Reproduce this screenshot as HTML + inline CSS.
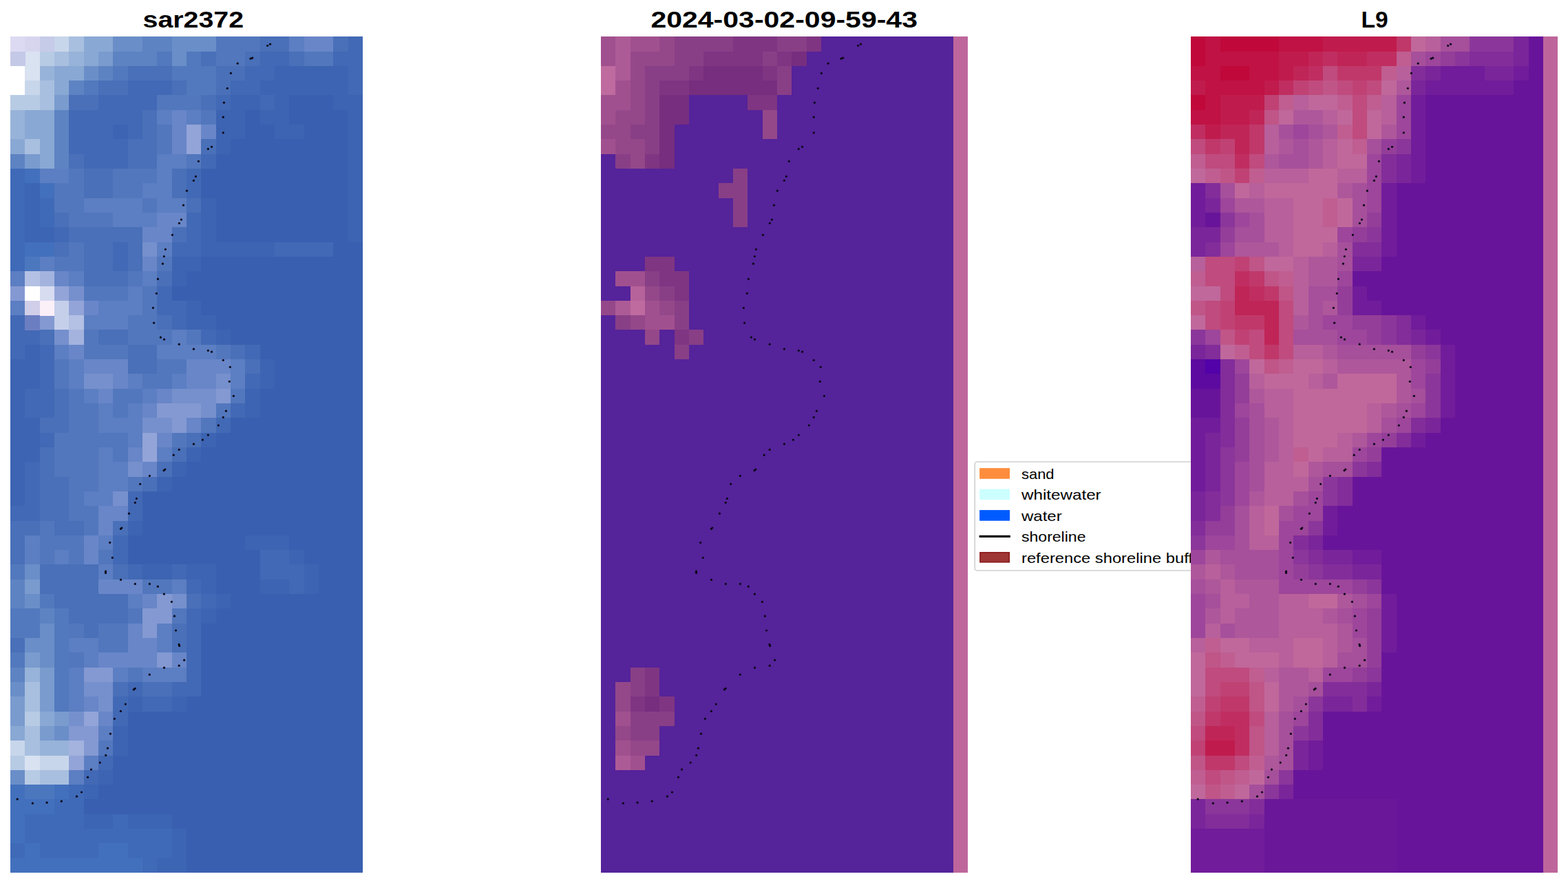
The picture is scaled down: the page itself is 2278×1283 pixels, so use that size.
<!DOCTYPE html>
<html><head><meta charset="utf-8"><title>figure</title>
<style>html,body{margin:0;padding:0;background:#fff;font-family:"Liberation Sans",sans-serif;}
#wrap{position:relative;width:2278px;height:1283px;overflow:hidden;}
svg{display:block}</style></head><body><div id="wrap">
<svg width="2278" height="1283" viewBox="0 0 2278 1283" shape-rendering="crispEdges">
<rect width="2278" height="1283" fill="#fff"/>
<rect x="15" y="53.2" width="512" height="1214.8" fill="#3a60b0"/>
<rect x="15.00" y="53.20" width="43.07" height="21.71" fill="#d9e2f1"/>
<rect x="57.67" y="53.20" width="43.07" height="21.71" fill="#c8d6eb"/>
<rect x="100.33" y="53.20" width="21.73" height="21.71" fill="#a8bfdf"/>
<rect x="121.67" y="53.20" width="43.07" height="21.71" fill="#89a8d4"/>
<rect x="164.33" y="53.20" width="43.07" height="21.71" fill="#6a8ec8"/>
<rect x="207.00" y="53.20" width="43.07" height="21.71" fill="#5d83c2"/>
<rect x="249.67" y="53.20" width="64.40" height="21.71" fill="#6a8ec8"/>
<rect x="313.67" y="53.20" width="64.40" height="21.71" fill="#5277bd"/>
<rect x="377.67" y="53.20" width="43.07" height="21.71" fill="#4970b8"/>
<rect x="420.33" y="53.20" width="21.73" height="21.71" fill="#5c7ec2"/>
<rect x="441.67" y="53.20" width="43.07" height="21.71" fill="#6886c8"/>
<rect x="484.33" y="53.20" width="21.73" height="21.71" fill="#4970b8"/>
<rect x="505.67" y="53.20" width="21.33" height="21.71" fill="#4269b5"/>
<rect x="15.00" y="74.51" width="21.73" height="21.71" fill="#c8d6eb"/>
<rect x="36.33" y="74.51" width="21.73" height="21.71" fill="#d9e2f1"/>
<rect x="57.67" y="74.51" width="21.73" height="21.71" fill="#b8cbe5"/>
<rect x="79.00" y="74.51" width="21.73" height="21.71" fill="#a8bfdf"/>
<rect x="100.33" y="74.51" width="21.73" height="21.71" fill="#98b3d9"/>
<rect x="121.67" y="74.51" width="21.73" height="21.71" fill="#89a8d4"/>
<rect x="143.00" y="74.51" width="21.73" height="21.71" fill="#799bce"/>
<rect x="164.33" y="74.51" width="64.40" height="21.71" fill="#5d83c2"/>
<rect x="228.33" y="74.51" width="21.73" height="21.71" fill="#5279bd"/>
<rect x="249.67" y="74.51" width="21.73" height="21.71" fill="#6a8ec8"/>
<rect x="271.00" y="74.51" width="21.73" height="21.71" fill="#5279bd"/>
<rect x="292.33" y="74.51" width="21.73" height="21.71" fill="#4970b8"/>
<rect x="313.67" y="74.51" width="43.07" height="21.71" fill="#5277bd"/>
<rect x="356.33" y="74.51" width="21.73" height="21.71" fill="#4970b8"/>
<rect x="377.67" y="74.51" width="43.07" height="21.71" fill="#4269b5"/>
<rect x="420.33" y="74.51" width="21.73" height="21.71" fill="#4970b8"/>
<rect x="441.67" y="74.51" width="43.07" height="21.71" fill="#5277bd"/>
<rect x="484.33" y="74.51" width="42.67" height="21.71" fill="#4269b5"/>
<rect x="15.00" y="95.82" width="21.73" height="21.71" fill="#ffffff"/>
<rect x="36.33" y="95.82" width="21.73" height="21.71" fill="#d9e2f1"/>
<rect x="57.67" y="95.82" width="21.73" height="21.71" fill="#98b3d9"/>
<rect x="79.00" y="95.82" width="43.07" height="21.71" fill="#89a8d4"/>
<rect x="121.67" y="95.82" width="21.73" height="21.71" fill="#6a8ec8"/>
<rect x="143.00" y="95.82" width="21.73" height="21.71" fill="#5d83c2"/>
<rect x="164.33" y="95.82" width="21.73" height="21.71" fill="#5279bd"/>
<rect x="185.67" y="95.82" width="64.40" height="21.71" fill="#4970b8"/>
<rect x="249.67" y="95.82" width="64.40" height="21.71" fill="#5279bd"/>
<rect x="313.67" y="95.82" width="43.07" height="21.71" fill="#4970b8"/>
<rect x="356.33" y="95.82" width="43.07" height="21.71" fill="#4269b5"/>
<rect x="399.00" y="95.82" width="107.07" height="21.71" fill="#3d64b2"/>
<rect x="505.67" y="95.82" width="21.33" height="21.71" fill="#4269b5"/>
<rect x="15.00" y="117.14" width="21.73" height="21.71" fill="#ffffff"/>
<rect x="36.33" y="117.14" width="21.73" height="21.71" fill="#c8d6eb"/>
<rect x="57.67" y="117.14" width="21.73" height="21.71" fill="#a8bfdf"/>
<rect x="79.00" y="117.14" width="21.73" height="21.71" fill="#89a8d4"/>
<rect x="100.33" y="117.14" width="21.73" height="21.71" fill="#5d83c2"/>
<rect x="121.67" y="117.14" width="21.73" height="21.71" fill="#5279bd"/>
<rect x="143.00" y="117.14" width="43.07" height="21.71" fill="#4970b8"/>
<rect x="185.67" y="117.14" width="64.40" height="21.71" fill="#4269b5"/>
<rect x="249.67" y="117.14" width="21.73" height="21.71" fill="#4970b8"/>
<rect x="271.00" y="117.14" width="43.07" height="21.71" fill="#5279bd"/>
<rect x="313.67" y="117.14" width="21.73" height="21.71" fill="#4970b8"/>
<rect x="335.00" y="117.14" width="43.07" height="21.71" fill="#4269b5"/>
<rect x="377.67" y="117.14" width="128.40" height="21.71" fill="#3d64b2"/>
<rect x="505.67" y="117.14" width="21.33" height="21.71" fill="#4269b5"/>
<rect x="15.00" y="138.45" width="43.07" height="21.71" fill="#b8cbe5"/>
<rect x="57.67" y="138.45" width="21.73" height="21.71" fill="#a8bfdf"/>
<rect x="79.00" y="138.45" width="21.73" height="21.71" fill="#799bce"/>
<rect x="100.33" y="138.45" width="43.07" height="21.71" fill="#4970b8"/>
<rect x="143.00" y="138.45" width="85.73" height="21.71" fill="#4269b5"/>
<rect x="228.33" y="138.45" width="64.40" height="21.71" fill="#5277bd"/>
<rect x="292.33" y="138.45" width="21.73" height="21.71" fill="#4970b8"/>
<rect x="313.67" y="138.45" width="21.73" height="21.71" fill="#4269b5"/>
<rect x="335.00" y="138.45" width="43.07" height="21.71" fill="#3d64b2"/>
<rect x="377.67" y="138.45" width="21.73" height="21.71" fill="#4269b5"/>
<rect x="399.00" y="138.45" width="21.73" height="21.71" fill="#3d64b2"/>
<rect x="420.33" y="138.45" width="64.40" height="21.71" fill="#395fb0"/>
<rect x="484.33" y="138.45" width="42.67" height="21.71" fill="#3d64b2"/>
<rect x="15.00" y="159.76" width="21.73" height="21.71" fill="#98b3d9"/>
<rect x="36.33" y="159.76" width="43.07" height="21.71" fill="#89a8d4"/>
<rect x="79.00" y="159.76" width="21.73" height="21.71" fill="#5d83c2"/>
<rect x="100.33" y="159.76" width="107.07" height="21.71" fill="#4269b5"/>
<rect x="207.00" y="159.76" width="21.73" height="21.71" fill="#4970b8"/>
<rect x="228.33" y="159.76" width="21.73" height="21.71" fill="#5c7ec2"/>
<rect x="249.67" y="159.76" width="21.73" height="21.71" fill="#6886c8"/>
<rect x="271.00" y="159.76" width="21.73" height="21.71" fill="#5c7ec2"/>
<rect x="292.33" y="159.76" width="21.73" height="21.71" fill="#5277bd"/>
<rect x="313.67" y="159.76" width="43.07" height="21.71" fill="#3d64b2"/>
<rect x="356.33" y="159.76" width="21.73" height="21.71" fill="#395fb0"/>
<rect x="377.67" y="159.76" width="43.07" height="21.71" fill="#3d64b2"/>
<rect x="420.33" y="159.76" width="85.73" height="21.71" fill="#395fb0"/>
<rect x="505.67" y="159.76" width="21.33" height="21.71" fill="#3d64b2"/>
<rect x="15.00" y="181.07" width="21.73" height="21.71" fill="#98b3d9"/>
<rect x="36.33" y="181.07" width="43.07" height="21.71" fill="#89a8d4"/>
<rect x="79.00" y="181.07" width="21.73" height="21.71" fill="#5d83c2"/>
<rect x="100.33" y="181.07" width="64.40" height="21.71" fill="#4269b5"/>
<rect x="164.33" y="181.07" width="21.73" height="21.71" fill="#3d64b2"/>
<rect x="185.67" y="181.07" width="21.73" height="21.71" fill="#4269b5"/>
<rect x="207.00" y="181.07" width="21.73" height="21.71" fill="#4970b8"/>
<rect x="228.33" y="181.07" width="21.73" height="21.71" fill="#5277bd"/>
<rect x="249.67" y="181.07" width="21.73" height="21.71" fill="#6886c8"/>
<rect x="271.00" y="181.07" width="21.73" height="21.71" fill="#93a4d8"/>
<rect x="292.33" y="181.07" width="21.73" height="21.71" fill="#6886c8"/>
<rect x="313.67" y="181.07" width="43.07" height="21.71" fill="#3d64b2"/>
<rect x="356.33" y="181.07" width="43.07" height="21.71" fill="#395fb0"/>
<rect x="399.00" y="181.07" width="43.07" height="21.71" fill="#3d64b2"/>
<rect x="441.67" y="181.07" width="64.40" height="21.71" fill="#395fb0"/>
<rect x="505.67" y="181.07" width="21.33" height="21.71" fill="#3d64b2"/>
<rect x="15.00" y="202.39" width="21.73" height="21.71" fill="#89a8d4"/>
<rect x="36.33" y="202.39" width="21.73" height="21.71" fill="#a8bfdf"/>
<rect x="57.67" y="202.39" width="21.73" height="21.71" fill="#89a8d4"/>
<rect x="79.00" y="202.39" width="21.73" height="21.71" fill="#5d83c2"/>
<rect x="100.33" y="202.39" width="85.73" height="21.71" fill="#4269b5"/>
<rect x="185.67" y="202.39" width="43.07" height="21.71" fill="#4970b8"/>
<rect x="228.33" y="202.39" width="21.73" height="21.71" fill="#5277bd"/>
<rect x="249.67" y="202.39" width="21.73" height="21.71" fill="#6886c8"/>
<rect x="271.00" y="202.39" width="21.73" height="21.71" fill="#93a4d8"/>
<rect x="292.33" y="202.39" width="21.73" height="21.71" fill="#4970b8"/>
<rect x="313.67" y="202.39" width="21.73" height="21.71" fill="#3d64b2"/>
<rect x="335.00" y="202.39" width="171.07" height="21.71" fill="#395fb0"/>
<rect x="505.67" y="202.39" width="21.33" height="21.71" fill="#3d64b2"/>
<rect x="15.00" y="223.70" width="21.73" height="21.71" fill="#5d83c2"/>
<rect x="36.33" y="223.70" width="21.73" height="21.71" fill="#799bce"/>
<rect x="57.67" y="223.70" width="21.73" height="21.71" fill="#89a8d4"/>
<rect x="79.00" y="223.70" width="21.73" height="21.71" fill="#5d83c2"/>
<rect x="100.33" y="223.70" width="21.73" height="21.71" fill="#4970b8"/>
<rect x="121.67" y="223.70" width="64.40" height="21.71" fill="#4269b5"/>
<rect x="185.67" y="223.70" width="43.07" height="21.71" fill="#4970b8"/>
<rect x="228.33" y="223.70" width="43.07" height="21.71" fill="#5c7ec2"/>
<rect x="271.00" y="223.70" width="21.73" height="21.71" fill="#5277bd"/>
<rect x="292.33" y="223.70" width="21.73" height="21.71" fill="#4269b5"/>
<rect x="313.67" y="223.70" width="192.40" height="21.71" fill="#395fb0"/>
<rect x="505.67" y="223.70" width="21.33" height="21.71" fill="#3d64b2"/>
<rect x="15.00" y="245.01" width="21.73" height="21.71" fill="#3f6ab8"/>
<rect x="36.33" y="245.01" width="21.73" height="21.71" fill="#4370bc"/>
<rect x="57.67" y="245.01" width="43.07" height="21.71" fill="#5c7ec2"/>
<rect x="100.33" y="245.01" width="21.73" height="21.71" fill="#5277bd"/>
<rect x="121.67" y="245.01" width="43.07" height="21.71" fill="#4970b8"/>
<rect x="164.33" y="245.01" width="64.40" height="21.71" fill="#5277bd"/>
<rect x="228.33" y="245.01" width="21.73" height="21.71" fill="#5c7ec2"/>
<rect x="249.67" y="245.01" width="21.73" height="21.71" fill="#4970b8"/>
<rect x="271.00" y="245.01" width="21.73" height="21.71" fill="#4269b5"/>
<rect x="292.33" y="245.01" width="213.73" height="21.71" fill="#395fb0"/>
<rect x="505.67" y="245.01" width="21.33" height="21.71" fill="#3d64b2"/>
<rect x="15.00" y="266.32" width="21.73" height="21.71" fill="#3f6ab8"/>
<rect x="36.33" y="266.32" width="21.73" height="21.71" fill="#3c65b4"/>
<rect x="57.67" y="266.32" width="21.73" height="21.71" fill="#4370bc"/>
<rect x="79.00" y="266.32" width="43.07" height="21.71" fill="#5277bd"/>
<rect x="121.67" y="266.32" width="43.07" height="21.71" fill="#4970b8"/>
<rect x="164.33" y="266.32" width="43.07" height="21.71" fill="#5277bd"/>
<rect x="207.00" y="266.32" width="43.07" height="21.71" fill="#5c7ec2"/>
<rect x="249.67" y="266.32" width="21.73" height="21.71" fill="#4970b8"/>
<rect x="271.00" y="266.32" width="21.73" height="21.71" fill="#4269b5"/>
<rect x="292.33" y="266.32" width="213.73" height="21.71" fill="#395fb0"/>
<rect x="505.67" y="266.32" width="21.33" height="21.71" fill="#3d64b2"/>
<rect x="15.00" y="287.64" width="21.73" height="21.71" fill="#3f6ab8"/>
<rect x="36.33" y="287.64" width="21.73" height="21.71" fill="#3c65b4"/>
<rect x="57.67" y="287.64" width="21.73" height="21.71" fill="#3f6ab8"/>
<rect x="79.00" y="287.64" width="43.07" height="21.71" fill="#5277bd"/>
<rect x="121.67" y="287.64" width="85.73" height="21.71" fill="#5c7ec2"/>
<rect x="207.00" y="287.64" width="21.73" height="21.71" fill="#5277bd"/>
<rect x="228.33" y="287.64" width="43.07" height="21.71" fill="#5c7ec2"/>
<rect x="271.00" y="287.64" width="21.73" height="21.71" fill="#4970b8"/>
<rect x="292.33" y="287.64" width="21.73" height="21.71" fill="#3d64b2"/>
<rect x="313.67" y="287.64" width="192.40" height="21.71" fill="#395fb0"/>
<rect x="505.67" y="287.64" width="21.33" height="21.71" fill="#3d64b2"/>
<rect x="15.00" y="308.95" width="21.73" height="21.71" fill="#3f6ab8"/>
<rect x="36.33" y="308.95" width="21.73" height="21.71" fill="#3c65b4"/>
<rect x="57.67" y="308.95" width="21.73" height="21.71" fill="#3f6ab8"/>
<rect x="79.00" y="308.95" width="21.73" height="21.71" fill="#4970b8"/>
<rect x="100.33" y="308.95" width="64.40" height="21.71" fill="#5277bd"/>
<rect x="164.33" y="308.95" width="64.40" height="21.71" fill="#5c7ec2"/>
<rect x="228.33" y="308.95" width="43.07" height="21.71" fill="#6886c8"/>
<rect x="271.00" y="308.95" width="21.73" height="21.71" fill="#4269b5"/>
<rect x="292.33" y="308.95" width="21.73" height="21.71" fill="#3d64b2"/>
<rect x="313.67" y="308.95" width="192.40" height="21.71" fill="#395fb0"/>
<rect x="505.67" y="308.95" width="21.33" height="21.71" fill="#3d64b2"/>
<rect x="15.00" y="330.26" width="21.73" height="21.71" fill="#3f6ab8"/>
<rect x="36.33" y="330.26" width="43.07" height="21.71" fill="#3c65b4"/>
<rect x="79.00" y="330.26" width="21.73" height="21.71" fill="#4269b5"/>
<rect x="100.33" y="330.26" width="107.07" height="21.71" fill="#4970b8"/>
<rect x="207.00" y="330.26" width="43.07" height="21.71" fill="#6886c8"/>
<rect x="249.67" y="330.26" width="21.73" height="21.71" fill="#4970b8"/>
<rect x="271.00" y="330.26" width="21.73" height="21.71" fill="#4269b5"/>
<rect x="292.33" y="330.26" width="21.73" height="21.71" fill="#3d64b2"/>
<rect x="313.67" y="330.26" width="192.40" height="21.71" fill="#395fb0"/>
<rect x="505.67" y="330.26" width="21.33" height="21.71" fill="#3d64b2"/>
<rect x="15.00" y="351.57" width="21.73" height="21.71" fill="#3f6ab8"/>
<rect x="36.33" y="351.57" width="43.07" height="21.71" fill="#4370bc"/>
<rect x="79.00" y="351.57" width="21.73" height="21.71" fill="#4970b8"/>
<rect x="100.33" y="351.57" width="21.73" height="21.71" fill="#5277bd"/>
<rect x="121.67" y="351.57" width="43.07" height="21.71" fill="#4970b8"/>
<rect x="164.33" y="351.57" width="21.73" height="21.71" fill="#4269b5"/>
<rect x="185.67" y="351.57" width="21.73" height="21.71" fill="#4970b8"/>
<rect x="207.00" y="351.57" width="21.73" height="21.71" fill="#7690cd"/>
<rect x="228.33" y="351.57" width="21.73" height="21.71" fill="#5c7ec2"/>
<rect x="249.67" y="351.57" width="43.07" height="21.71" fill="#4269b5"/>
<rect x="292.33" y="351.57" width="107.07" height="21.71" fill="#3d64b2"/>
<rect x="399.00" y="351.57" width="85.73" height="21.71" fill="#4269b5"/>
<rect x="484.33" y="351.57" width="42.67" height="21.71" fill="#395fb0"/>
<rect x="15.00" y="372.88" width="21.73" height="21.71" fill="#3f6ab8"/>
<rect x="36.33" y="372.88" width="21.73" height="21.71" fill="#4b77bf"/>
<rect x="57.67" y="372.88" width="21.73" height="21.71" fill="#5c7ec2"/>
<rect x="79.00" y="372.88" width="43.07" height="21.71" fill="#5277bd"/>
<rect x="121.67" y="372.88" width="43.07" height="21.71" fill="#4970b8"/>
<rect x="164.33" y="372.88" width="21.73" height="21.71" fill="#4269b5"/>
<rect x="185.67" y="372.88" width="21.73" height="21.71" fill="#4970b8"/>
<rect x="207.00" y="372.88" width="21.73" height="21.71" fill="#6886c8"/>
<rect x="228.33" y="372.88" width="21.73" height="21.71" fill="#5277bd"/>
<rect x="249.67" y="372.88" width="43.07" height="21.71" fill="#3d64b2"/>
<rect x="292.33" y="372.88" width="234.67" height="21.71" fill="#395fb0"/>
<rect x="15.00" y="394.20" width="21.73" height="21.71" fill="#5c7ec2"/>
<rect x="36.33" y="394.20" width="21.73" height="21.71" fill="#b4c1e4"/>
<rect x="57.67" y="394.20" width="21.73" height="21.71" fill="#a3b3de"/>
<rect x="79.00" y="394.20" width="21.73" height="21.71" fill="#6886c8"/>
<rect x="100.33" y="394.20" width="21.73" height="21.71" fill="#5c7ec2"/>
<rect x="121.67" y="394.20" width="64.40" height="21.71" fill="#4970b8"/>
<rect x="185.67" y="394.20" width="21.73" height="21.71" fill="#5277bd"/>
<rect x="207.00" y="394.20" width="21.73" height="21.71" fill="#5c7ec2"/>
<rect x="228.33" y="394.20" width="21.73" height="21.71" fill="#4970b8"/>
<rect x="249.67" y="394.20" width="21.73" height="21.71" fill="#3d64b2"/>
<rect x="271.00" y="394.20" width="256.00" height="21.71" fill="#395fb0"/>
<rect x="15.00" y="415.51" width="21.73" height="21.71" fill="#8499d2"/>
<rect x="36.33" y="415.51" width="21.73" height="21.71" fill="#ffffff"/>
<rect x="57.67" y="415.51" width="21.73" height="21.71" fill="#d7dcf1"/>
<rect x="79.00" y="415.51" width="21.73" height="21.71" fill="#93a4d8"/>
<rect x="100.33" y="415.51" width="21.73" height="21.71" fill="#7690cd"/>
<rect x="121.67" y="415.51" width="64.40" height="21.71" fill="#5277bd"/>
<rect x="185.67" y="415.51" width="21.73" height="21.71" fill="#5c7ec2"/>
<rect x="207.00" y="415.51" width="21.73" height="21.71" fill="#5277bd"/>
<rect x="228.33" y="415.51" width="21.73" height="21.71" fill="#4269b5"/>
<rect x="249.67" y="415.51" width="277.33" height="21.71" fill="#395fb0"/>
<rect x="15.00" y="436.82" width="21.73" height="21.71" fill="#5c7ec2"/>
<rect x="36.33" y="436.82" width="21.73" height="21.71" fill="#c5cfea"/>
<rect x="57.67" y="436.82" width="21.73" height="21.71" fill="#ebedf8"/>
<rect x="79.00" y="436.82" width="21.73" height="21.71" fill="#c5cfea"/>
<rect x="100.33" y="436.82" width="21.73" height="21.71" fill="#93a4d8"/>
<rect x="121.67" y="436.82" width="21.73" height="21.71" fill="#6886c8"/>
<rect x="143.00" y="436.82" width="64.40" height="21.71" fill="#5c7ec2"/>
<rect x="207.00" y="436.82" width="21.73" height="21.71" fill="#5277bd"/>
<rect x="228.33" y="436.82" width="43.07" height="21.71" fill="#4269b5"/>
<rect x="271.00" y="436.82" width="21.73" height="21.71" fill="#3d64b2"/>
<rect x="292.33" y="436.82" width="234.67" height="21.71" fill="#395fb0"/>
<rect x="15.00" y="458.13" width="21.73" height="21.71" fill="#4269b5"/>
<rect x="36.33" y="458.13" width="21.73" height="21.71" fill="#5c7ec2"/>
<rect x="57.67" y="458.13" width="21.73" height="21.71" fill="#8499d2"/>
<rect x="79.00" y="458.13" width="21.73" height="21.71" fill="#c5cfea"/>
<rect x="100.33" y="458.13" width="21.73" height="21.71" fill="#b4c1e4"/>
<rect x="121.67" y="458.13" width="64.40" height="21.71" fill="#5c7ec2"/>
<rect x="185.67" y="458.13" width="43.07" height="21.71" fill="#5277bd"/>
<rect x="228.33" y="458.13" width="21.73" height="21.71" fill="#4970b8"/>
<rect x="249.67" y="458.13" width="21.73" height="21.71" fill="#4269b5"/>
<rect x="271.00" y="458.13" width="43.07" height="21.71" fill="#3d64b2"/>
<rect x="313.67" y="458.13" width="213.33" height="21.71" fill="#395fb0"/>
<rect x="15.00" y="479.45" width="43.07" height="21.71" fill="#4269b5"/>
<rect x="57.67" y="479.45" width="21.73" height="21.71" fill="#4970b8"/>
<rect x="79.00" y="479.45" width="21.73" height="21.71" fill="#7690cd"/>
<rect x="100.33" y="479.45" width="21.73" height="21.71" fill="#a3b3de"/>
<rect x="121.67" y="479.45" width="21.73" height="21.71" fill="#5277bd"/>
<rect x="143.00" y="479.45" width="43.07" height="21.71" fill="#4970b8"/>
<rect x="185.67" y="479.45" width="64.40" height="21.71" fill="#5277bd"/>
<rect x="249.67" y="479.45" width="21.73" height="21.71" fill="#5c7ec2"/>
<rect x="271.00" y="479.45" width="21.73" height="21.71" fill="#5277bd"/>
<rect x="292.33" y="479.45" width="21.73" height="21.71" fill="#4269b5"/>
<rect x="313.67" y="479.45" width="21.73" height="21.71" fill="#3d64b2"/>
<rect x="335.00" y="479.45" width="192.00" height="21.71" fill="#395fb0"/>
<rect x="15.00" y="500.76" width="21.73" height="21.71" fill="#4269b5"/>
<rect x="36.33" y="500.76" width="21.73" height="21.71" fill="#3d64b2"/>
<rect x="57.67" y="500.76" width="21.73" height="21.71" fill="#4269b5"/>
<rect x="79.00" y="500.76" width="21.73" height="21.71" fill="#5c7ec2"/>
<rect x="100.33" y="500.76" width="21.73" height="21.71" fill="#6886c8"/>
<rect x="121.67" y="500.76" width="64.40" height="21.71" fill="#5277bd"/>
<rect x="185.67" y="500.76" width="43.07" height="21.71" fill="#4970b8"/>
<rect x="228.33" y="500.76" width="85.73" height="21.71" fill="#5c7ec2"/>
<rect x="313.67" y="500.76" width="21.73" height="21.71" fill="#5277bd"/>
<rect x="335.00" y="500.76" width="21.73" height="21.71" fill="#4970b8"/>
<rect x="356.33" y="500.76" width="21.73" height="21.71" fill="#4269b5"/>
<rect x="377.67" y="500.76" width="149.33" height="21.71" fill="#395fb0"/>
<rect x="15.00" y="522.07" width="43.07" height="21.71" fill="#3d64b2"/>
<rect x="57.67" y="522.07" width="21.73" height="21.71" fill="#4269b5"/>
<rect x="79.00" y="522.07" width="21.73" height="21.71" fill="#5277bd"/>
<rect x="100.33" y="522.07" width="21.73" height="21.71" fill="#5c7ec2"/>
<rect x="121.67" y="522.07" width="64.40" height="21.71" fill="#6886c8"/>
<rect x="185.67" y="522.07" width="43.07" height="21.71" fill="#4970b8"/>
<rect x="228.33" y="522.07" width="43.07" height="21.71" fill="#5277bd"/>
<rect x="271.00" y="522.07" width="64.40" height="21.71" fill="#6886c8"/>
<rect x="335.00" y="522.07" width="21.73" height="21.71" fill="#5c7ec2"/>
<rect x="356.33" y="522.07" width="21.73" height="21.71" fill="#4970b8"/>
<rect x="377.67" y="522.07" width="21.73" height="21.71" fill="#3d64b2"/>
<rect x="399.00" y="522.07" width="128.00" height="21.71" fill="#395fb0"/>
<rect x="15.00" y="543.38" width="43.07" height="21.71" fill="#3d64b2"/>
<rect x="57.67" y="543.38" width="21.73" height="21.71" fill="#4269b5"/>
<rect x="79.00" y="543.38" width="21.73" height="21.71" fill="#5277bd"/>
<rect x="100.33" y="543.38" width="21.73" height="21.71" fill="#5c7ec2"/>
<rect x="121.67" y="543.38" width="43.07" height="21.71" fill="#7690cd"/>
<rect x="164.33" y="543.38" width="21.73" height="21.71" fill="#6886c8"/>
<rect x="185.67" y="543.38" width="21.73" height="21.71" fill="#5c7ec2"/>
<rect x="207.00" y="543.38" width="43.07" height="21.71" fill="#5277bd"/>
<rect x="249.67" y="543.38" width="21.73" height="21.71" fill="#5c7ec2"/>
<rect x="271.00" y="543.38" width="43.07" height="21.71" fill="#6886c8"/>
<rect x="313.67" y="543.38" width="21.73" height="21.71" fill="#7690cd"/>
<rect x="335.00" y="543.38" width="21.73" height="21.71" fill="#5c7ec2"/>
<rect x="356.33" y="543.38" width="21.73" height="21.71" fill="#4269b5"/>
<rect x="377.67" y="543.38" width="21.73" height="21.71" fill="#3d64b2"/>
<rect x="399.00" y="543.38" width="128.00" height="21.71" fill="#395fb0"/>
<rect x="15.00" y="564.69" width="21.73" height="21.71" fill="#3d64b2"/>
<rect x="36.33" y="564.69" width="43.07" height="21.71" fill="#4269b5"/>
<rect x="79.00" y="564.69" width="21.73" height="21.71" fill="#4970b8"/>
<rect x="100.33" y="564.69" width="21.73" height="21.71" fill="#5277bd"/>
<rect x="121.67" y="564.69" width="21.73" height="21.71" fill="#5c7ec2"/>
<rect x="143.00" y="564.69" width="21.73" height="21.71" fill="#6886c8"/>
<rect x="164.33" y="564.69" width="43.07" height="21.71" fill="#5277bd"/>
<rect x="207.00" y="564.69" width="21.73" height="21.71" fill="#5c7ec2"/>
<rect x="228.33" y="564.69" width="21.73" height="21.71" fill="#6886c8"/>
<rect x="249.67" y="564.69" width="64.40" height="21.71" fill="#7690cd"/>
<rect x="313.67" y="564.69" width="21.73" height="21.71" fill="#8499d2"/>
<rect x="335.00" y="564.69" width="21.73" height="21.71" fill="#5277bd"/>
<rect x="356.33" y="564.69" width="21.73" height="21.71" fill="#3d64b2"/>
<rect x="377.67" y="564.69" width="149.33" height="21.71" fill="#395fb0"/>
<rect x="15.00" y="586.01" width="21.73" height="21.71" fill="#3d64b2"/>
<rect x="36.33" y="586.01" width="43.07" height="21.71" fill="#4269b5"/>
<rect x="79.00" y="586.01" width="21.73" height="21.71" fill="#4970b8"/>
<rect x="100.33" y="586.01" width="43.07" height="21.71" fill="#5277bd"/>
<rect x="143.00" y="586.01" width="21.73" height="21.71" fill="#5c7ec2"/>
<rect x="164.33" y="586.01" width="21.73" height="21.71" fill="#5277bd"/>
<rect x="185.67" y="586.01" width="21.73" height="21.71" fill="#5c7ec2"/>
<rect x="207.00" y="586.01" width="21.73" height="21.71" fill="#6886c8"/>
<rect x="228.33" y="586.01" width="64.40" height="21.71" fill="#8499d2"/>
<rect x="292.33" y="586.01" width="21.73" height="21.71" fill="#7690cd"/>
<rect x="313.67" y="586.01" width="21.73" height="21.71" fill="#5277bd"/>
<rect x="335.00" y="586.01" width="21.73" height="21.71" fill="#4269b5"/>
<rect x="356.33" y="586.01" width="21.73" height="21.71" fill="#3d64b2"/>
<rect x="377.67" y="586.01" width="149.33" height="21.71" fill="#395fb0"/>
<rect x="15.00" y="607.32" width="43.07" height="21.71" fill="#3d64b2"/>
<rect x="57.67" y="607.32" width="43.07" height="21.71" fill="#4970b8"/>
<rect x="100.33" y="607.32" width="43.07" height="21.71" fill="#5277bd"/>
<rect x="143.00" y="607.32" width="64.40" height="21.71" fill="#5c7ec2"/>
<rect x="207.00" y="607.32" width="43.07" height="21.71" fill="#7690cd"/>
<rect x="249.67" y="607.32" width="21.73" height="21.71" fill="#8499d2"/>
<rect x="271.00" y="607.32" width="21.73" height="21.71" fill="#6886c8"/>
<rect x="292.33" y="607.32" width="21.73" height="21.71" fill="#5277bd"/>
<rect x="313.67" y="607.32" width="21.73" height="21.71" fill="#4269b5"/>
<rect x="335.00" y="607.32" width="192.00" height="21.71" fill="#395fb0"/>
<rect x="15.00" y="628.63" width="43.07" height="21.71" fill="#3d64b2"/>
<rect x="57.67" y="628.63" width="21.73" height="21.71" fill="#4269b5"/>
<rect x="79.00" y="628.63" width="107.07" height="21.71" fill="#5277bd"/>
<rect x="185.67" y="628.63" width="21.73" height="21.71" fill="#5c7ec2"/>
<rect x="207.00" y="628.63" width="21.73" height="21.71" fill="#93a4d8"/>
<rect x="228.33" y="628.63" width="21.73" height="21.71" fill="#6886c8"/>
<rect x="249.67" y="628.63" width="21.73" height="21.71" fill="#5277bd"/>
<rect x="271.00" y="628.63" width="21.73" height="21.71" fill="#4970b8"/>
<rect x="292.33" y="628.63" width="21.73" height="21.71" fill="#3d64b2"/>
<rect x="313.67" y="628.63" width="213.33" height="21.71" fill="#395fb0"/>
<rect x="15.00" y="649.94" width="43.07" height="21.71" fill="#3d64b2"/>
<rect x="57.67" y="649.94" width="21.73" height="21.71" fill="#4970b8"/>
<rect x="79.00" y="649.94" width="64.40" height="21.71" fill="#5277bd"/>
<rect x="143.00" y="649.94" width="21.73" height="21.71" fill="#5c7ec2"/>
<rect x="164.33" y="649.94" width="21.73" height="21.71" fill="#5277bd"/>
<rect x="185.67" y="649.94" width="21.73" height="21.71" fill="#6886c8"/>
<rect x="207.00" y="649.94" width="21.73" height="21.71" fill="#93a4d8"/>
<rect x="228.33" y="649.94" width="21.73" height="21.71" fill="#5c7ec2"/>
<rect x="249.67" y="649.94" width="21.73" height="21.71" fill="#4970b8"/>
<rect x="271.00" y="649.94" width="21.73" height="21.71" fill="#3d64b2"/>
<rect x="292.33" y="649.94" width="234.67" height="21.71" fill="#395fb0"/>
<rect x="15.00" y="671.26" width="21.73" height="21.71" fill="#3d64b2"/>
<rect x="36.33" y="671.26" width="21.73" height="21.71" fill="#4269b5"/>
<rect x="57.67" y="671.26" width="21.73" height="21.71" fill="#4970b8"/>
<rect x="79.00" y="671.26" width="64.40" height="21.71" fill="#5277bd"/>
<rect x="143.00" y="671.26" width="43.07" height="21.71" fill="#5c7ec2"/>
<rect x="185.67" y="671.26" width="21.73" height="21.71" fill="#7690cd"/>
<rect x="207.00" y="671.26" width="21.73" height="21.71" fill="#6886c8"/>
<rect x="228.33" y="671.26" width="21.73" height="21.71" fill="#4970b8"/>
<rect x="249.67" y="671.26" width="21.73" height="21.71" fill="#3d64b2"/>
<rect x="271.00" y="671.26" width="256.00" height="21.71" fill="#395fb0"/>
<rect x="15.00" y="692.57" width="21.73" height="21.71" fill="#3d64b2"/>
<rect x="36.33" y="692.57" width="21.73" height="21.71" fill="#4269b5"/>
<rect x="57.67" y="692.57" width="43.07" height="21.71" fill="#4970b8"/>
<rect x="100.33" y="692.57" width="43.07" height="21.71" fill="#5277bd"/>
<rect x="143.00" y="692.57" width="43.07" height="21.71" fill="#5c7ec2"/>
<rect x="185.67" y="692.57" width="21.73" height="21.71" fill="#5277bd"/>
<rect x="207.00" y="692.57" width="21.73" height="21.71" fill="#4970b8"/>
<rect x="228.33" y="692.57" width="21.73" height="21.71" fill="#3d64b2"/>
<rect x="249.67" y="692.57" width="277.33" height="21.71" fill="#395fb0"/>
<rect x="15.00" y="713.88" width="21.73" height="21.71" fill="#3d64b2"/>
<rect x="36.33" y="713.88" width="21.73" height="21.71" fill="#4269b5"/>
<rect x="57.67" y="713.88" width="43.07" height="21.71" fill="#4970b8"/>
<rect x="100.33" y="713.88" width="21.73" height="21.71" fill="#5277bd"/>
<rect x="121.67" y="713.88" width="43.07" height="21.71" fill="#5c7ec2"/>
<rect x="164.33" y="713.88" width="21.73" height="21.71" fill="#7690cd"/>
<rect x="185.67" y="713.88" width="21.73" height="21.71" fill="#4269b5"/>
<rect x="207.00" y="713.88" width="320.00" height="21.71" fill="#395fb0"/>
<rect x="15.00" y="735.19" width="43.07" height="21.71" fill="#4269b5"/>
<rect x="57.67" y="735.19" width="43.07" height="21.71" fill="#4970b8"/>
<rect x="100.33" y="735.19" width="43.07" height="21.71" fill="#5277bd"/>
<rect x="143.00" y="735.19" width="43.07" height="21.71" fill="#6886c8"/>
<rect x="185.67" y="735.19" width="21.73" height="21.71" fill="#4269b5"/>
<rect x="207.00" y="735.19" width="320.00" height="21.71" fill="#395fb0"/>
<rect x="15.00" y="756.51" width="43.07" height="21.71" fill="#4970b8"/>
<rect x="57.67" y="756.51" width="21.73" height="21.71" fill="#5277bd"/>
<rect x="79.00" y="756.51" width="43.07" height="21.71" fill="#4970b8"/>
<rect x="121.67" y="756.51" width="21.73" height="21.71" fill="#5277bd"/>
<rect x="143.00" y="756.51" width="21.73" height="21.71" fill="#6886c8"/>
<rect x="164.33" y="756.51" width="21.73" height="21.71" fill="#4970b8"/>
<rect x="185.67" y="756.51" width="21.73" height="21.71" fill="#3d64b2"/>
<rect x="207.00" y="756.51" width="320.00" height="21.71" fill="#395fb0"/>
<rect x="15.00" y="777.82" width="21.73" height="21.71" fill="#4970b8"/>
<rect x="36.33" y="777.82" width="21.73" height="21.71" fill="#5c7ec2"/>
<rect x="57.67" y="777.82" width="64.40" height="21.71" fill="#5277bd"/>
<rect x="121.67" y="777.82" width="21.73" height="21.71" fill="#6886c8"/>
<rect x="143.00" y="777.82" width="21.73" height="21.71" fill="#5c7ec2"/>
<rect x="164.33" y="777.82" width="21.73" height="21.71" fill="#4269b5"/>
<rect x="185.67" y="777.82" width="171.07" height="21.71" fill="#395fb0"/>
<rect x="356.33" y="777.82" width="64.40" height="21.71" fill="#3d64b2"/>
<rect x="420.33" y="777.82" width="106.67" height="21.71" fill="#395fb0"/>
<rect x="15.00" y="799.13" width="21.73" height="21.71" fill="#4970b8"/>
<rect x="36.33" y="799.13" width="21.73" height="21.71" fill="#5c7ec2"/>
<rect x="57.67" y="799.13" width="21.73" height="21.71" fill="#5277bd"/>
<rect x="79.00" y="799.13" width="21.73" height="21.71" fill="#5c7ec2"/>
<rect x="100.33" y="799.13" width="21.73" height="21.71" fill="#5277bd"/>
<rect x="121.67" y="799.13" width="21.73" height="21.71" fill="#6886c8"/>
<rect x="143.00" y="799.13" width="21.73" height="21.71" fill="#5277bd"/>
<rect x="164.33" y="799.13" width="21.73" height="21.71" fill="#4269b5"/>
<rect x="185.67" y="799.13" width="192.40" height="21.71" fill="#395fb0"/>
<rect x="377.67" y="799.13" width="43.07" height="21.71" fill="#4269b5"/>
<rect x="420.33" y="799.13" width="21.73" height="21.71" fill="#3d64b2"/>
<rect x="441.67" y="799.13" width="85.33" height="21.71" fill="#395fb0"/>
<rect x="15.00" y="820.44" width="21.73" height="21.71" fill="#5279bd"/>
<rect x="36.33" y="820.44" width="21.73" height="21.71" fill="#6a8ec8"/>
<rect x="57.67" y="820.44" width="43.07" height="21.71" fill="#4970b8"/>
<rect x="100.33" y="820.44" width="43.07" height="21.71" fill="#4970b8"/>
<rect x="143.00" y="820.44" width="21.73" height="21.71" fill="#5c7ec2"/>
<rect x="164.33" y="820.44" width="21.73" height="21.71" fill="#4970b8"/>
<rect x="185.67" y="820.44" width="21.73" height="21.71" fill="#4269b5"/>
<rect x="207.00" y="820.44" width="43.07" height="21.71" fill="#3d64b2"/>
<rect x="249.67" y="820.44" width="21.73" height="21.71" fill="#4269b5"/>
<rect x="271.00" y="820.44" width="43.07" height="21.71" fill="#3d64b2"/>
<rect x="313.67" y="820.44" width="64.40" height="21.71" fill="#395fb0"/>
<rect x="377.67" y="820.44" width="64.40" height="21.71" fill="#4269b5"/>
<rect x="441.67" y="820.44" width="21.73" height="21.71" fill="#3d64b2"/>
<rect x="463.00" y="820.44" width="64.00" height="21.71" fill="#395fb0"/>
<rect x="15.00" y="841.75" width="21.73" height="21.71" fill="#5d83c2"/>
<rect x="36.33" y="841.75" width="21.73" height="21.71" fill="#799bce"/>
<rect x="57.67" y="841.75" width="43.07" height="21.71" fill="#4970b8"/>
<rect x="100.33" y="841.75" width="43.07" height="21.71" fill="#4970b8"/>
<rect x="143.00" y="841.75" width="64.40" height="21.71" fill="#6886c8"/>
<rect x="207.00" y="841.75" width="43.07" height="21.71" fill="#5277bd"/>
<rect x="249.67" y="841.75" width="21.73" height="21.71" fill="#5c7ec2"/>
<rect x="271.00" y="841.75" width="21.73" height="21.71" fill="#4269b5"/>
<rect x="292.33" y="841.75" width="21.73" height="21.71" fill="#3d64b2"/>
<rect x="313.67" y="841.75" width="64.40" height="21.71" fill="#395fb0"/>
<rect x="377.67" y="841.75" width="43.07" height="21.71" fill="#3d64b2"/>
<rect x="420.33" y="841.75" width="21.73" height="21.71" fill="#4269b5"/>
<rect x="441.67" y="841.75" width="21.73" height="21.71" fill="#3d64b2"/>
<rect x="463.00" y="841.75" width="64.00" height="21.71" fill="#395fb0"/>
<rect x="15.00" y="863.07" width="21.73" height="21.71" fill="#5d83c2"/>
<rect x="36.33" y="863.07" width="21.73" height="21.71" fill="#6a8ec8"/>
<rect x="57.67" y="863.07" width="21.73" height="21.71" fill="#5279bd"/>
<rect x="79.00" y="863.07" width="21.73" height="21.71" fill="#4970b8"/>
<rect x="100.33" y="863.07" width="85.73" height="21.71" fill="#4970b8"/>
<rect x="185.67" y="863.07" width="21.73" height="21.71" fill="#5c7ec2"/>
<rect x="207.00" y="863.07" width="21.73" height="21.71" fill="#6886c8"/>
<rect x="228.33" y="863.07" width="21.73" height="21.71" fill="#8499d2"/>
<rect x="249.67" y="863.07" width="21.73" height="21.71" fill="#7690cd"/>
<rect x="271.00" y="863.07" width="21.73" height="21.71" fill="#4970b8"/>
<rect x="292.33" y="863.07" width="21.73" height="21.71" fill="#4269b5"/>
<rect x="313.67" y="863.07" width="21.73" height="21.71" fill="#3d64b2"/>
<rect x="335.00" y="863.07" width="192.00" height="21.71" fill="#395fb0"/>
<rect x="15.00" y="884.38" width="43.07" height="21.71" fill="#5279bd"/>
<rect x="57.67" y="884.38" width="21.73" height="21.71" fill="#5d83c2"/>
<rect x="79.00" y="884.38" width="21.73" height="21.71" fill="#5279bd"/>
<rect x="100.33" y="884.38" width="85.73" height="21.71" fill="#4970b8"/>
<rect x="185.67" y="884.38" width="21.73" height="21.71" fill="#5277bd"/>
<rect x="207.00" y="884.38" width="43.07" height="21.71" fill="#8499d2"/>
<rect x="249.67" y="884.38" width="21.73" height="21.71" fill="#5277bd"/>
<rect x="271.00" y="884.38" width="21.73" height="21.71" fill="#4269b5"/>
<rect x="292.33" y="884.38" width="21.73" height="21.71" fill="#3d64b2"/>
<rect x="313.67" y="884.38" width="213.33" height="21.71" fill="#395fb0"/>
<rect x="15.00" y="905.69" width="43.07" height="21.71" fill="#5279bd"/>
<rect x="57.67" y="905.69" width="21.73" height="21.71" fill="#6a8ec8"/>
<rect x="79.00" y="905.69" width="21.73" height="21.71" fill="#5279bd"/>
<rect x="100.33" y="905.69" width="21.73" height="21.71" fill="#5277bd"/>
<rect x="121.67" y="905.69" width="21.73" height="21.71" fill="#4970b8"/>
<rect x="143.00" y="905.69" width="43.07" height="21.71" fill="#5277bd"/>
<rect x="185.67" y="905.69" width="21.73" height="21.71" fill="#6886c8"/>
<rect x="207.00" y="905.69" width="21.73" height="21.71" fill="#8499d2"/>
<rect x="228.33" y="905.69" width="21.73" height="21.71" fill="#5c7ec2"/>
<rect x="249.67" y="905.69" width="21.73" height="21.71" fill="#4970b8"/>
<rect x="271.00" y="905.69" width="21.73" height="21.71" fill="#4269b5"/>
<rect x="292.33" y="905.69" width="234.67" height="21.71" fill="#395fb0"/>
<rect x="15.00" y="927.00" width="21.73" height="21.71" fill="#4970b8"/>
<rect x="36.33" y="927.00" width="43.07" height="21.71" fill="#6a8ec8"/>
<rect x="79.00" y="927.00" width="21.73" height="21.71" fill="#5279bd"/>
<rect x="100.33" y="927.00" width="43.07" height="21.71" fill="#5c7ec2"/>
<rect x="143.00" y="927.00" width="43.07" height="21.71" fill="#5277bd"/>
<rect x="185.67" y="927.00" width="43.07" height="21.71" fill="#6886c8"/>
<rect x="228.33" y="927.00" width="21.73" height="21.71" fill="#5c7ec2"/>
<rect x="249.67" y="927.00" width="21.73" height="21.71" fill="#4970b8"/>
<rect x="271.00" y="927.00" width="21.73" height="21.71" fill="#4269b5"/>
<rect x="292.33" y="927.00" width="234.67" height="21.71" fill="#395fb0"/>
<rect x="15.00" y="948.32" width="21.73" height="21.71" fill="#5279bd"/>
<rect x="36.33" y="948.32" width="21.73" height="21.71" fill="#799bce"/>
<rect x="57.67" y="948.32" width="21.73" height="21.71" fill="#6a8ec8"/>
<rect x="79.00" y="948.32" width="21.73" height="21.71" fill="#5279bd"/>
<rect x="100.33" y="948.32" width="21.73" height="21.71" fill="#5277bd"/>
<rect x="121.67" y="948.32" width="21.73" height="21.71" fill="#5c7ec2"/>
<rect x="143.00" y="948.32" width="85.73" height="21.71" fill="#6886c8"/>
<rect x="228.33" y="948.32" width="21.73" height="21.71" fill="#8499d2"/>
<rect x="249.67" y="948.32" width="21.73" height="21.71" fill="#6886c8"/>
<rect x="271.00" y="948.32" width="21.73" height="21.71" fill="#4269b5"/>
<rect x="292.33" y="948.32" width="234.67" height="21.71" fill="#395fb0"/>
<rect x="15.00" y="969.63" width="21.73" height="21.71" fill="#5d83c2"/>
<rect x="36.33" y="969.63" width="21.73" height="21.71" fill="#98b3d9"/>
<rect x="57.67" y="969.63" width="21.73" height="21.71" fill="#799bce"/>
<rect x="79.00" y="969.63" width="21.73" height="21.71" fill="#5279bd"/>
<rect x="100.33" y="969.63" width="21.73" height="21.71" fill="#5c7ec2"/>
<rect x="121.67" y="969.63" width="43.07" height="21.71" fill="#8499d2"/>
<rect x="164.33" y="969.63" width="21.73" height="21.71" fill="#5c7ec2"/>
<rect x="185.67" y="969.63" width="21.73" height="21.71" fill="#5277bd"/>
<rect x="207.00" y="969.63" width="64.40" height="21.71" fill="#5c7ec2"/>
<rect x="271.00" y="969.63" width="21.73" height="21.71" fill="#4269b5"/>
<rect x="292.33" y="969.63" width="234.67" height="21.71" fill="#395fb0"/>
<rect x="15.00" y="990.94" width="21.73" height="21.71" fill="#6a8ec8"/>
<rect x="36.33" y="990.94" width="21.73" height="21.71" fill="#a8bfdf"/>
<rect x="57.67" y="990.94" width="21.73" height="21.71" fill="#799bce"/>
<rect x="79.00" y="990.94" width="21.73" height="21.71" fill="#5279bd"/>
<rect x="100.33" y="990.94" width="21.73" height="21.71" fill="#5c7ec2"/>
<rect x="121.67" y="990.94" width="43.07" height="21.71" fill="#7690cd"/>
<rect x="164.33" y="990.94" width="21.73" height="21.71" fill="#4970b8"/>
<rect x="185.67" y="990.94" width="21.73" height="21.71" fill="#4269b5"/>
<rect x="207.00" y="990.94" width="43.07" height="21.71" fill="#4970b8"/>
<rect x="249.67" y="990.94" width="43.07" height="21.71" fill="#4269b5"/>
<rect x="292.33" y="990.94" width="234.67" height="21.71" fill="#395fb0"/>
<rect x="15.00" y="1012.25" width="21.73" height="21.71" fill="#799bce"/>
<rect x="36.33" y="1012.25" width="21.73" height="21.71" fill="#a8bfdf"/>
<rect x="57.67" y="1012.25" width="21.73" height="21.71" fill="#799bce"/>
<rect x="79.00" y="1012.25" width="21.73" height="21.71" fill="#5279bd"/>
<rect x="100.33" y="1012.25" width="21.73" height="21.71" fill="#5c7ec2"/>
<rect x="121.67" y="1012.25" width="21.73" height="21.71" fill="#6886c8"/>
<rect x="143.00" y="1012.25" width="21.73" height="21.71" fill="#7690cd"/>
<rect x="164.33" y="1012.25" width="21.73" height="21.71" fill="#4269b5"/>
<rect x="185.67" y="1012.25" width="21.73" height="21.71" fill="#3d64b2"/>
<rect x="207.00" y="1012.25" width="43.07" height="21.71" fill="#4269b5"/>
<rect x="249.67" y="1012.25" width="21.73" height="21.71" fill="#3d64b2"/>
<rect x="271.00" y="1012.25" width="256.00" height="21.71" fill="#395fb0"/>
<rect x="15.00" y="1033.56" width="21.73" height="21.71" fill="#799bce"/>
<rect x="36.33" y="1033.56" width="21.73" height="21.71" fill="#b8cbe5"/>
<rect x="57.67" y="1033.56" width="21.73" height="21.71" fill="#89a8d4"/>
<rect x="79.00" y="1033.56" width="21.73" height="21.71" fill="#799bce"/>
<rect x="100.33" y="1033.56" width="21.73" height="21.71" fill="#7690cd"/>
<rect x="121.67" y="1033.56" width="21.73" height="21.71" fill="#93a4d8"/>
<rect x="143.00" y="1033.56" width="21.73" height="21.71" fill="#6886c8"/>
<rect x="164.33" y="1033.56" width="21.73" height="21.71" fill="#4269b5"/>
<rect x="185.67" y="1033.56" width="341.33" height="21.71" fill="#395fb0"/>
<rect x="15.00" y="1054.88" width="21.73" height="21.71" fill="#89a8d4"/>
<rect x="36.33" y="1054.88" width="21.73" height="21.71" fill="#a8bfdf"/>
<rect x="57.67" y="1054.88" width="21.73" height="21.71" fill="#799bce"/>
<rect x="79.00" y="1054.88" width="21.73" height="21.71" fill="#6a8ec8"/>
<rect x="100.33" y="1054.88" width="43.07" height="21.71" fill="#8499d2"/>
<rect x="143.00" y="1054.88" width="21.73" height="21.71" fill="#5c7ec2"/>
<rect x="164.33" y="1054.88" width="21.73" height="21.71" fill="#3d64b2"/>
<rect x="185.67" y="1054.88" width="341.33" height="21.71" fill="#395fb0"/>
<rect x="15.00" y="1076.19" width="21.73" height="21.71" fill="#c8d6eb"/>
<rect x="36.33" y="1076.19" width="21.73" height="21.71" fill="#a8bfdf"/>
<rect x="57.67" y="1076.19" width="43.07" height="21.71" fill="#98b3d9"/>
<rect x="100.33" y="1076.19" width="21.73" height="21.71" fill="#a3b3de"/>
<rect x="121.67" y="1076.19" width="21.73" height="21.71" fill="#8499d2"/>
<rect x="143.00" y="1076.19" width="21.73" height="21.71" fill="#5277bd"/>
<rect x="164.33" y="1076.19" width="21.73" height="21.71" fill="#3d64b2"/>
<rect x="185.67" y="1076.19" width="341.33" height="21.71" fill="#395fb0"/>
<rect x="15.00" y="1097.50" width="21.73" height="21.71" fill="#b8cbe5"/>
<rect x="36.33" y="1097.50" width="21.73" height="21.71" fill="#d9e2f1"/>
<rect x="57.67" y="1097.50" width="43.07" height="21.71" fill="#c8d6eb"/>
<rect x="100.33" y="1097.50" width="21.73" height="21.71" fill="#93a4d8"/>
<rect x="121.67" y="1097.50" width="21.73" height="21.71" fill="#5c7ec2"/>
<rect x="143.00" y="1097.50" width="21.73" height="21.71" fill="#4269b5"/>
<rect x="164.33" y="1097.50" width="362.67" height="21.71" fill="#395fb0"/>
<rect x="15.00" y="1118.81" width="21.73" height="21.71" fill="#6a8ec8"/>
<rect x="36.33" y="1118.81" width="21.73" height="21.71" fill="#b8cbe5"/>
<rect x="57.67" y="1118.81" width="43.07" height="21.71" fill="#a8bfdf"/>
<rect x="100.33" y="1118.81" width="21.73" height="21.71" fill="#5c7ec2"/>
<rect x="121.67" y="1118.81" width="21.73" height="21.71" fill="#4269b5"/>
<rect x="143.00" y="1118.81" width="21.73" height="21.71" fill="#3d64b2"/>
<rect x="164.33" y="1118.81" width="362.67" height="21.71" fill="#395fb0"/>
<rect x="15.00" y="1140.13" width="21.73" height="21.71" fill="#4370bc"/>
<rect x="36.33" y="1140.13" width="43.07" height="21.71" fill="#4b77bf"/>
<rect x="79.00" y="1140.13" width="21.73" height="21.71" fill="#4370bc"/>
<rect x="100.33" y="1140.13" width="21.73" height="21.71" fill="#3f6ab8"/>
<rect x="121.67" y="1140.13" width="21.73" height="21.71" fill="#3c65b4"/>
<rect x="143.00" y="1140.13" width="384.00" height="21.71" fill="#395fb0"/>
<rect x="15.00" y="1161.44" width="64.40" height="21.71" fill="#4370bc"/>
<rect x="79.00" y="1161.44" width="43.07" height="21.71" fill="#3f6ab8"/>
<rect x="121.67" y="1161.44" width="405.33" height="21.71" fill="#395fb0"/>
<rect x="15.00" y="1182.75" width="21.73" height="21.71" fill="#4370bc"/>
<rect x="36.33" y="1182.75" width="85.73" height="21.71" fill="#3f6ab8"/>
<rect x="121.67" y="1182.75" width="43.07" height="21.71" fill="#3c65b4"/>
<rect x="164.33" y="1182.75" width="21.73" height="21.71" fill="#3f6ab8"/>
<rect x="185.67" y="1182.75" width="64.40" height="21.71" fill="#3c65b4"/>
<rect x="249.67" y="1182.75" width="277.33" height="21.71" fill="#395fb0"/>
<rect x="15.00" y="1204.06" width="21.73" height="21.71" fill="#4370bc"/>
<rect x="36.33" y="1204.06" width="213.73" height="21.71" fill="#3f6ab8"/>
<rect x="249.67" y="1204.06" width="21.73" height="21.71" fill="#3c65b4"/>
<rect x="271.00" y="1204.06" width="256.00" height="21.71" fill="#395fb0"/>
<rect x="15.00" y="1225.38" width="21.73" height="21.71" fill="#3f6ab8"/>
<rect x="36.33" y="1225.38" width="21.73" height="21.71" fill="#4370bc"/>
<rect x="57.67" y="1225.38" width="85.73" height="21.71" fill="#3f6ab8"/>
<rect x="143.00" y="1225.38" width="43.07" height="21.71" fill="#4370bc"/>
<rect x="185.67" y="1225.38" width="64.40" height="21.71" fill="#3f6ab8"/>
<rect x="249.67" y="1225.38" width="21.73" height="21.71" fill="#3c65b4"/>
<rect x="271.00" y="1225.38" width="256.00" height="21.71" fill="#395fb0"/>
<rect x="15.00" y="1246.69" width="192.40" height="21.31" fill="#4370bc"/>
<rect x="207.00" y="1246.69" width="21.73" height="21.31" fill="#3f6ab8"/>
<rect x="228.33" y="1246.69" width="43.07" height="21.31" fill="#3c65b4"/>
<rect x="271.00" y="1246.69" width="256.00" height="21.31" fill="#395fb0"/>
<rect x="15.00" y="53.20" width="21.73" height="21.71" fill="#dcdaf2"/>
<rect x="36.33" y="53.20" width="21.73" height="21.71" fill="#d7d5ee"/>
<rect x="57.67" y="53.20" width="21.73" height="21.71" fill="#c6cbe8"/>
<rect x="15.00" y="74.51" width="21.73" height="21.71" fill="#c5c9e8"/>
<rect x="57.67" y="436.82" width="21.73" height="21.71" fill="#fbeff8"/>
<rect x="36.33" y="436.82" width="21.73" height="21.71" fill="#d1cee9"/>
<rect x="36.33" y="458.13" width="21.73" height="21.71" fill="#6c7ec2"/>
<rect x="873" y="53.2" width="512" height="1214.8" fill="#552299"/>
<rect x="1385" y="53.2" width="21.2" height="1214.8" fill="#be669c"/>
<rect x="873.00" y="53.20" width="21.73" height="21.71" fill="#a1508f"/>
<rect x="894.33" y="53.20" width="21.73" height="21.71" fill="#ad5b96"/>
<rect x="915.67" y="53.20" width="43.07" height="21.71" fill="#a1508f"/>
<rect x="958.33" y="53.20" width="21.73" height="21.71" fill="#94488a"/>
<rect x="979.67" y="53.20" width="85.73" height="21.71" fill="#893f86"/>
<rect x="1065.00" y="53.20" width="64.40" height="21.71" fill="#7f3582"/>
<rect x="1129.00" y="53.20" width="43.07" height="21.71" fill="#893f86"/>
<rect x="1171.67" y="53.20" width="21.73" height="21.71" fill="#7f3582"/>
<rect x="1193.00" y="53.20" width="192.00" height="21.71" fill="#55239a"/>
<rect x="873.00" y="74.51" width="21.73" height="21.71" fill="#a1508f"/>
<rect x="894.33" y="74.51" width="21.73" height="21.71" fill="#ad5b96"/>
<rect x="915.67" y="74.51" width="64.40" height="21.71" fill="#94488a"/>
<rect x="979.67" y="74.51" width="43.07" height="21.71" fill="#893f86"/>
<rect x="1022.33" y="74.51" width="85.73" height="21.71" fill="#7f3582"/>
<rect x="1107.67" y="74.51" width="21.73" height="21.71" fill="#893f86"/>
<rect x="1129.00" y="74.51" width="21.73" height="21.71" fill="#7f3582"/>
<rect x="1150.33" y="74.51" width="21.73" height="21.71" fill="#772e7f"/>
<rect x="1171.67" y="74.51" width="213.33" height="21.71" fill="#55239a"/>
<rect x="873.00" y="95.82" width="21.73" height="21.71" fill="#bf6ba0"/>
<rect x="894.33" y="95.82" width="21.73" height="21.71" fill="#ad5b96"/>
<rect x="915.67" y="95.82" width="21.73" height="21.71" fill="#94488a"/>
<rect x="937.00" y="95.82" width="64.40" height="21.71" fill="#893f86"/>
<rect x="1001.00" y="95.82" width="21.73" height="21.71" fill="#7f3582"/>
<rect x="1022.33" y="95.82" width="85.73" height="21.71" fill="#772e7f"/>
<rect x="1107.67" y="95.82" width="21.73" height="21.71" fill="#7f3582"/>
<rect x="1129.00" y="95.82" width="21.73" height="21.71" fill="#893f86"/>
<rect x="1150.33" y="95.82" width="234.67" height="21.71" fill="#55239a"/>
<rect x="873.00" y="117.14" width="21.73" height="21.71" fill="#bf6ba0"/>
<rect x="894.33" y="117.14" width="21.73" height="21.71" fill="#a1508f"/>
<rect x="915.67" y="117.14" width="21.73" height="21.71" fill="#94488a"/>
<rect x="937.00" y="117.14" width="21.73" height="21.71" fill="#893f86"/>
<rect x="958.33" y="117.14" width="43.07" height="21.71" fill="#7f3582"/>
<rect x="1001.00" y="117.14" width="128.40" height="21.71" fill="#772e7f"/>
<rect x="1129.00" y="117.14" width="21.73" height="21.71" fill="#893f86"/>
<rect x="1150.33" y="117.14" width="234.67" height="21.71" fill="#55239a"/>
<rect x="873.00" y="138.45" width="43.07" height="21.71" fill="#a1508f"/>
<rect x="915.67" y="138.45" width="21.73" height="21.71" fill="#94488a"/>
<rect x="937.00" y="138.45" width="21.73" height="21.71" fill="#893f86"/>
<rect x="958.33" y="138.45" width="43.07" height="21.71" fill="#772e7f"/>
<rect x="1001.00" y="138.45" width="85.73" height="21.71" fill="#55239a"/>
<rect x="1086.33" y="138.45" width="43.07" height="21.71" fill="#7f3582"/>
<rect x="1129.00" y="138.45" width="256.00" height="21.71" fill="#55239a"/>
<rect x="873.00" y="159.76" width="21.73" height="21.71" fill="#a1508f"/>
<rect x="894.33" y="159.76" width="43.07" height="21.71" fill="#94488a"/>
<rect x="937.00" y="159.76" width="21.73" height="21.71" fill="#893f86"/>
<rect x="958.33" y="159.76" width="43.07" height="21.71" fill="#772e7f"/>
<rect x="1001.00" y="159.76" width="107.07" height="21.71" fill="#55239a"/>
<rect x="1107.67" y="159.76" width="21.73" height="21.71" fill="#94488a"/>
<rect x="1129.00" y="159.76" width="256.00" height="21.71" fill="#55239a"/>
<rect x="873.00" y="181.07" width="43.07" height="21.71" fill="#94488a"/>
<rect x="915.67" y="181.07" width="43.07" height="21.71" fill="#893f86"/>
<rect x="958.33" y="181.07" width="21.73" height="21.71" fill="#772e7f"/>
<rect x="979.67" y="181.07" width="128.40" height="21.71" fill="#55239a"/>
<rect x="1107.67" y="181.07" width="21.73" height="21.71" fill="#94488a"/>
<rect x="1129.00" y="181.07" width="256.00" height="21.71" fill="#55239a"/>
<rect x="873.00" y="202.39" width="21.73" height="21.71" fill="#a1508f"/>
<rect x="894.33" y="202.39" width="43.07" height="21.71" fill="#94488a"/>
<rect x="937.00" y="202.39" width="21.73" height="21.71" fill="#893f86"/>
<rect x="958.33" y="202.39" width="21.73" height="21.71" fill="#772e7f"/>
<rect x="979.67" y="202.39" width="405.33" height="21.71" fill="#55239a"/>
<rect x="873.00" y="223.70" width="21.73" height="21.71" fill="#55239a"/>
<rect x="894.33" y="223.70" width="21.73" height="21.71" fill="#893f86"/>
<rect x="915.67" y="223.70" width="21.73" height="21.71" fill="#94488a"/>
<rect x="937.00" y="223.70" width="21.73" height="21.71" fill="#7f3582"/>
<rect x="958.33" y="223.70" width="21.73" height="21.71" fill="#772e7f"/>
<rect x="979.67" y="223.70" width="405.33" height="21.71" fill="#55239a"/>
<rect x="873.00" y="245.01" width="192.40" height="21.71" fill="#55239a"/>
<rect x="1065.00" y="245.01" width="21.73" height="21.71" fill="#893f86"/>
<rect x="1086.33" y="245.01" width="298.67" height="21.71" fill="#55239a"/>
<rect x="873.00" y="266.32" width="171.07" height="21.71" fill="#55239a"/>
<rect x="1043.67" y="266.32" width="43.07" height="21.71" fill="#893f86"/>
<rect x="1086.33" y="266.32" width="298.67" height="21.71" fill="#55239a"/>
<rect x="873.00" y="287.64" width="192.40" height="21.71" fill="#55239a"/>
<rect x="1065.00" y="287.64" width="21.73" height="21.71" fill="#893f86"/>
<rect x="1086.33" y="287.64" width="298.67" height="21.71" fill="#55239a"/>
<rect x="873.00" y="308.95" width="192.40" height="21.71" fill="#55239a"/>
<rect x="1065.00" y="308.95" width="21.73" height="21.71" fill="#893f86"/>
<rect x="1086.33" y="308.95" width="298.67" height="21.71" fill="#55239a"/>
<rect x="873.00" y="330.26" width="512.00" height="21.71" fill="#55239a"/>
<rect x="873.00" y="351.57" width="512.00" height="21.71" fill="#55239a"/>
<rect x="873.00" y="372.88" width="64.40" height="21.71" fill="#55239a"/>
<rect x="937.00" y="372.88" width="43.07" height="21.71" fill="#7f3582"/>
<rect x="979.67" y="372.88" width="405.33" height="21.71" fill="#55239a"/>
<rect x="873.00" y="394.20" width="21.73" height="21.71" fill="#55239a"/>
<rect x="894.33" y="394.20" width="43.07" height="21.71" fill="#a1508f"/>
<rect x="937.00" y="394.20" width="21.73" height="21.71" fill="#893f86"/>
<rect x="958.33" y="394.20" width="43.07" height="21.71" fill="#7f3582"/>
<rect x="1001.00" y="394.20" width="384.00" height="21.71" fill="#55239a"/>
<rect x="873.00" y="415.51" width="43.07" height="21.71" fill="#55239a"/>
<rect x="915.67" y="415.51" width="21.73" height="21.71" fill="#b6639b"/>
<rect x="937.00" y="415.51" width="21.73" height="21.71" fill="#94488a"/>
<rect x="958.33" y="415.51" width="21.73" height="21.71" fill="#893f86"/>
<rect x="979.67" y="415.51" width="21.73" height="21.71" fill="#7f3582"/>
<rect x="1001.00" y="415.51" width="384.00" height="21.71" fill="#55239a"/>
<rect x="873.00" y="436.82" width="21.73" height="21.71" fill="#94488a"/>
<rect x="894.33" y="436.82" width="21.73" height="21.71" fill="#ad5b96"/>
<rect x="915.67" y="436.82" width="21.73" height="21.71" fill="#bf6ba0"/>
<rect x="937.00" y="436.82" width="21.73" height="21.71" fill="#a1508f"/>
<rect x="958.33" y="436.82" width="21.73" height="21.71" fill="#94488a"/>
<rect x="979.67" y="436.82" width="21.73" height="21.71" fill="#893f86"/>
<rect x="1001.00" y="436.82" width="384.00" height="21.71" fill="#55239a"/>
<rect x="873.00" y="458.13" width="21.73" height="21.71" fill="#55239a"/>
<rect x="894.33" y="458.13" width="21.73" height="21.71" fill="#893f86"/>
<rect x="915.67" y="458.13" width="21.73" height="21.71" fill="#94488a"/>
<rect x="937.00" y="458.13" width="43.07" height="21.71" fill="#a1508f"/>
<rect x="979.67" y="458.13" width="21.73" height="21.71" fill="#893f86"/>
<rect x="1001.00" y="458.13" width="384.00" height="21.71" fill="#55239a"/>
<rect x="873.00" y="479.45" width="64.40" height="21.71" fill="#55239a"/>
<rect x="937.00" y="479.45" width="21.73" height="21.71" fill="#94488a"/>
<rect x="958.33" y="479.45" width="21.73" height="21.71" fill="#55239a"/>
<rect x="979.67" y="479.45" width="21.73" height="21.71" fill="#7f3582"/>
<rect x="1001.00" y="479.45" width="21.73" height="21.71" fill="#893f86"/>
<rect x="1022.33" y="479.45" width="362.67" height="21.71" fill="#55239a"/>
<rect x="873.00" y="500.76" width="107.07" height="21.71" fill="#55239a"/>
<rect x="979.67" y="500.76" width="21.73" height="21.71" fill="#893f86"/>
<rect x="1001.00" y="500.76" width="384.00" height="21.71" fill="#55239a"/>
<rect x="873.00" y="522.07" width="512.00" height="21.71" fill="#55239a"/>
<rect x="873.00" y="543.38" width="512.00" height="21.71" fill="#55239a"/>
<rect x="873.00" y="564.69" width="512.00" height="21.71" fill="#55239a"/>
<rect x="873.00" y="586.01" width="512.00" height="21.71" fill="#55239a"/>
<rect x="873.00" y="607.32" width="512.00" height="21.71" fill="#55239a"/>
<rect x="873.00" y="628.63" width="512.00" height="21.71" fill="#55239a"/>
<rect x="873.00" y="649.94" width="512.00" height="21.71" fill="#55239a"/>
<rect x="873.00" y="671.26" width="512.00" height="21.71" fill="#55239a"/>
<rect x="873.00" y="692.57" width="512.00" height="21.71" fill="#55239a"/>
<rect x="873.00" y="713.88" width="512.00" height="21.71" fill="#55239a"/>
<rect x="873.00" y="735.19" width="512.00" height="21.71" fill="#55239a"/>
<rect x="873.00" y="756.51" width="512.00" height="21.71" fill="#55239a"/>
<rect x="873.00" y="777.82" width="512.00" height="21.71" fill="#55239a"/>
<rect x="873.00" y="799.13" width="512.00" height="21.71" fill="#55239a"/>
<rect x="873.00" y="820.44" width="512.00" height="21.71" fill="#55239a"/>
<rect x="873.00" y="841.75" width="512.00" height="21.71" fill="#55239a"/>
<rect x="873.00" y="863.07" width="512.00" height="21.71" fill="#55239a"/>
<rect x="873.00" y="884.38" width="512.00" height="21.71" fill="#55239a"/>
<rect x="873.00" y="905.69" width="512.00" height="21.71" fill="#55239a"/>
<rect x="873.00" y="927.00" width="512.00" height="21.71" fill="#55239a"/>
<rect x="873.00" y="948.32" width="512.00" height="21.71" fill="#55239a"/>
<rect x="873.00" y="969.63" width="43.07" height="21.71" fill="#55239a"/>
<rect x="915.67" y="969.63" width="21.73" height="21.71" fill="#893f86"/>
<rect x="937.00" y="969.63" width="21.73" height="21.71" fill="#7f3582"/>
<rect x="958.33" y="969.63" width="426.67" height="21.71" fill="#55239a"/>
<rect x="873.00" y="990.94" width="21.73" height="21.71" fill="#55239a"/>
<rect x="894.33" y="990.94" width="21.73" height="21.71" fill="#94488a"/>
<rect x="915.67" y="990.94" width="21.73" height="21.71" fill="#893f86"/>
<rect x="937.00" y="990.94" width="21.73" height="21.71" fill="#7f3582"/>
<rect x="958.33" y="990.94" width="426.67" height="21.71" fill="#55239a"/>
<rect x="873.00" y="1012.25" width="21.73" height="21.71" fill="#55239a"/>
<rect x="894.33" y="1012.25" width="21.73" height="21.71" fill="#94488a"/>
<rect x="915.67" y="1012.25" width="21.73" height="21.71" fill="#7f3582"/>
<rect x="937.00" y="1012.25" width="21.73" height="21.71" fill="#772e7f"/>
<rect x="958.33" y="1012.25" width="21.73" height="21.71" fill="#7f3582"/>
<rect x="979.67" y="1012.25" width="405.33" height="21.71" fill="#55239a"/>
<rect x="873.00" y="1033.56" width="21.73" height="21.71" fill="#55239a"/>
<rect x="894.33" y="1033.56" width="21.73" height="21.71" fill="#a1508f"/>
<rect x="915.67" y="1033.56" width="64.40" height="21.71" fill="#893f86"/>
<rect x="979.67" y="1033.56" width="405.33" height="21.71" fill="#55239a"/>
<rect x="873.00" y="1054.88" width="21.73" height="21.71" fill="#55239a"/>
<rect x="894.33" y="1054.88" width="21.73" height="21.71" fill="#94488a"/>
<rect x="915.67" y="1054.88" width="43.07" height="21.71" fill="#893f86"/>
<rect x="958.33" y="1054.88" width="426.67" height="21.71" fill="#55239a"/>
<rect x="873.00" y="1076.19" width="21.73" height="21.71" fill="#55239a"/>
<rect x="894.33" y="1076.19" width="21.73" height="21.71" fill="#a1508f"/>
<rect x="915.67" y="1076.19" width="43.07" height="21.71" fill="#94488a"/>
<rect x="958.33" y="1076.19" width="426.67" height="21.71" fill="#55239a"/>
<rect x="873.00" y="1097.50" width="21.73" height="21.71" fill="#55239a"/>
<rect x="894.33" y="1097.50" width="21.73" height="21.71" fill="#ad5b96"/>
<rect x="915.67" y="1097.50" width="21.73" height="21.71" fill="#a1508f"/>
<rect x="937.00" y="1097.50" width="448.00" height="21.71" fill="#55239a"/>
<rect x="873.00" y="1118.81" width="512.00" height="21.71" fill="#55239a"/>
<rect x="873.00" y="1140.13" width="512.00" height="21.71" fill="#55239a"/>
<rect x="873.00" y="1161.44" width="512.00" height="21.71" fill="#55239a"/>
<rect x="873.00" y="1182.75" width="512.00" height="21.71" fill="#55239a"/>
<rect x="873.00" y="1204.06" width="512.00" height="21.71" fill="#55239a"/>
<rect x="873.00" y="1225.38" width="512.00" height="21.71" fill="#55239a"/>
<rect x="873.00" y="1246.69" width="512.00" height="21.31" fill="#55239a"/>
<g shape-rendering="geometricPrecision">
<rect x="1416.2" y="671" width="340" height="158" rx="3.5" ry="3.5" fill="#fff" stroke="#cfcfcf" stroke-width="1.6"/>
<rect x="1423.1" y="680.15" width="43.9" height="15.6" fill="#fd8d3c"/>
<rect x="1423.1" y="710.60" width="43.9" height="15.6" fill="#ccffff"/>
<rect x="1423.1" y="741.10" width="43.9" height="15.6" fill="#005bff"/>
<rect x="1423.9" y="802.8" width="42.3" height="14.0" fill="#9e3636" stroke="#8c1a1a" stroke-width="1.6"/>
<rect x="1422.6" y="777.8" width="45.2" height="3.2" fill="#000"/>
<g fill="#000" font-family="&quot;Liberation Sans&quot;, sans-serif" font-size="21">
<text x="1484" y="695.6" textLength="47.5" lengthAdjust="spacingAndGlyphs">sand</text>
<text x="1484" y="726.1" textLength="115.7" lengthAdjust="spacingAndGlyphs">whitewater</text>
<text x="1484" y="756.5" textLength="58.7" lengthAdjust="spacingAndGlyphs">water</text>
<text x="1484" y="787" textLength="93.5" lengthAdjust="spacingAndGlyphs">shoreline</text>
<text x="1484" y="817.5" textLength="270" lengthAdjust="spacingAndGlyphs">reference shoreline buffer</text>
</g></g>
<rect x="1730" y="53.2" width="512" height="1214.8" fill="#68149a"/>
<rect x="2242" y="53.2" width="21.2" height="1214.8" fill="#be669c"/>
<rect x="1730.00" y="53.20" width="21.73" height="21.71" fill="#c0083a"/>
<rect x="1751.33" y="53.20" width="21.73" height="21.71" fill="#c01244"/>
<rect x="1772.67" y="53.20" width="85.73" height="21.71" fill="#c0083a"/>
<rect x="1858.00" y="53.20" width="64.40" height="21.71" fill="#c01244"/>
<rect x="1922.00" y="53.20" width="107.07" height="21.71" fill="#c01b4d"/>
<rect x="2028.67" y="53.20" width="21.73" height="21.71" fill="#c0386a"/>
<rect x="2050.00" y="53.20" width="21.73" height="21.71" fill="#c0689b"/>
<rect x="2071.33" y="53.20" width="21.73" height="21.71" fill="#b7609b"/>
<rect x="2092.67" y="53.20" width="43.07" height="21.71" fill="#a64f9b"/>
<rect x="2135.33" y="53.20" width="64.40" height="21.71" fill="#8b369a"/>
<rect x="2199.33" y="53.20" width="21.73" height="21.71" fill="#7a259a"/>
<rect x="2220.67" y="53.20" width="21.33" height="21.71" fill="#68149a"/>
<rect x="1730.00" y="74.51" width="21.73" height="21.71" fill="#c0083a"/>
<rect x="1751.33" y="74.51" width="107.07" height="21.71" fill="#c01244"/>
<rect x="1858.00" y="74.51" width="43.07" height="21.71" fill="#c01b4d"/>
<rect x="1900.67" y="74.51" width="21.73" height="21.71" fill="#c02557"/>
<rect x="1922.00" y="74.51" width="21.73" height="21.71" fill="#c02e61"/>
<rect x="1943.33" y="74.51" width="43.07" height="21.71" fill="#c02557"/>
<rect x="1986.00" y="74.51" width="43.07" height="21.71" fill="#c02e61"/>
<rect x="2028.67" y="74.51" width="21.73" height="21.71" fill="#c05e91"/>
<rect x="2050.00" y="74.51" width="21.73" height="21.71" fill="#a64f9b"/>
<rect x="2071.33" y="74.51" width="21.73" height="21.71" fill="#9d469b"/>
<rect x="2092.67" y="74.51" width="21.73" height="21.71" fill="#943e9a"/>
<rect x="2114.00" y="74.51" width="21.73" height="21.71" fill="#8b369a"/>
<rect x="2135.33" y="74.51" width="64.40" height="21.71" fill="#822d9a"/>
<rect x="2199.33" y="74.51" width="21.73" height="21.71" fill="#7a259a"/>
<rect x="2220.67" y="74.51" width="21.33" height="21.71" fill="#68149a"/>
<rect x="1730.00" y="95.82" width="43.07" height="21.71" fill="#c01244"/>
<rect x="1772.67" y="95.82" width="43.07" height="21.71" fill="#c0083a"/>
<rect x="1815.33" y="95.82" width="43.07" height="21.71" fill="#c01244"/>
<rect x="1858.00" y="95.82" width="21.73" height="21.71" fill="#c01b4d"/>
<rect x="1879.33" y="95.82" width="21.73" height="21.71" fill="#c02557"/>
<rect x="1900.67" y="95.82" width="21.73" height="21.71" fill="#c02e61"/>
<rect x="1922.00" y="95.82" width="21.73" height="21.71" fill="#c04b7e"/>
<rect x="1943.33" y="95.82" width="64.40" height="21.71" fill="#c0386a"/>
<rect x="2007.33" y="95.82" width="21.73" height="21.71" fill="#c05e91"/>
<rect x="2028.67" y="95.82" width="21.73" height="21.71" fill="#b7609b"/>
<rect x="2050.00" y="95.82" width="21.73" height="21.71" fill="#822d9a"/>
<rect x="2071.33" y="95.82" width="21.73" height="21.71" fill="#7a259a"/>
<rect x="2092.67" y="95.82" width="64.40" height="21.71" fill="#711c9a"/>
<rect x="2156.67" y="95.82" width="43.07" height="21.71" fill="#7a259a"/>
<rect x="2199.33" y="95.82" width="21.73" height="21.71" fill="#711c9a"/>
<rect x="2220.67" y="95.82" width="21.33" height="21.71" fill="#68149a"/>
<rect x="1730.00" y="117.14" width="21.73" height="21.71" fill="#c01b4d"/>
<rect x="1751.33" y="117.14" width="85.73" height="21.71" fill="#c01244"/>
<rect x="1836.67" y="117.14" width="21.73" height="21.71" fill="#c01b4d"/>
<rect x="1858.00" y="117.14" width="21.73" height="21.71" fill="#c02e61"/>
<rect x="1879.33" y="117.14" width="21.73" height="21.71" fill="#c04274"/>
<rect x="1900.67" y="117.14" width="21.73" height="21.71" fill="#c04b7e"/>
<rect x="1922.00" y="117.14" width="21.73" height="21.71" fill="#c05588"/>
<rect x="1943.33" y="117.14" width="21.73" height="21.71" fill="#c04b7e"/>
<rect x="1964.67" y="117.14" width="21.73" height="21.71" fill="#c04274"/>
<rect x="1986.00" y="117.14" width="21.73" height="21.71" fill="#c04b7e"/>
<rect x="2007.33" y="117.14" width="21.73" height="21.71" fill="#c0689b"/>
<rect x="2028.67" y="117.14" width="21.73" height="21.71" fill="#ae579b"/>
<rect x="2050.00" y="117.14" width="21.73" height="21.71" fill="#7a259a"/>
<rect x="2071.33" y="117.14" width="128.40" height="21.71" fill="#711c9a"/>
<rect x="2199.33" y="117.14" width="42.67" height="21.71" fill="#68149a"/>
<rect x="1730.00" y="138.45" width="21.73" height="21.71" fill="#c0083a"/>
<rect x="1751.33" y="138.45" width="21.73" height="21.71" fill="#c01244"/>
<rect x="1772.67" y="138.45" width="64.40" height="21.71" fill="#c01b4d"/>
<rect x="1836.67" y="138.45" width="21.73" height="21.71" fill="#c04274"/>
<rect x="1858.00" y="138.45" width="21.73" height="21.71" fill="#c05e91"/>
<rect x="1879.33" y="138.45" width="21.73" height="21.71" fill="#b7609b"/>
<rect x="1900.67" y="138.45" width="43.07" height="21.71" fill="#c0689b"/>
<rect x="1943.33" y="138.45" width="21.73" height="21.71" fill="#c05e91"/>
<rect x="1964.67" y="138.45" width="21.73" height="21.71" fill="#c04b7e"/>
<rect x="1986.00" y="138.45" width="21.73" height="21.71" fill="#c05e91"/>
<rect x="2007.33" y="138.45" width="21.73" height="21.71" fill="#b7609b"/>
<rect x="2028.67" y="138.45" width="21.73" height="21.71" fill="#9d469b"/>
<rect x="2050.00" y="138.45" width="21.73" height="21.71" fill="#711c9a"/>
<rect x="2071.33" y="138.45" width="170.67" height="21.71" fill="#68149a"/>
<rect x="1730.00" y="159.76" width="43.07" height="21.71" fill="#c01244"/>
<rect x="1772.67" y="159.76" width="43.07" height="21.71" fill="#c01b4d"/>
<rect x="1815.33" y="159.76" width="21.73" height="21.71" fill="#c02557"/>
<rect x="1836.67" y="159.76" width="21.73" height="21.71" fill="#c05588"/>
<rect x="1858.00" y="159.76" width="21.73" height="21.71" fill="#c0689b"/>
<rect x="1879.33" y="159.76" width="43.07" height="21.71" fill="#ae579b"/>
<rect x="1922.00" y="159.76" width="21.73" height="21.71" fill="#b7609b"/>
<rect x="1943.33" y="159.76" width="21.73" height="21.71" fill="#c0689b"/>
<rect x="1964.67" y="159.76" width="21.73" height="21.71" fill="#c04b7e"/>
<rect x="1986.00" y="159.76" width="21.73" height="21.71" fill="#c0689b"/>
<rect x="2007.33" y="159.76" width="21.73" height="21.71" fill="#b7609b"/>
<rect x="2028.67" y="159.76" width="21.73" height="21.71" fill="#9d469b"/>
<rect x="2050.00" y="159.76" width="21.73" height="21.71" fill="#711c9a"/>
<rect x="2071.33" y="159.76" width="170.67" height="21.71" fill="#68149a"/>
<rect x="1730.00" y="181.07" width="21.73" height="21.71" fill="#c02e61"/>
<rect x="1751.33" y="181.07" width="21.73" height="21.71" fill="#c01b4d"/>
<rect x="1772.67" y="181.07" width="43.07" height="21.71" fill="#c02557"/>
<rect x="1815.33" y="181.07" width="21.73" height="21.71" fill="#c0386a"/>
<rect x="1836.67" y="181.07" width="21.73" height="21.71" fill="#b7609b"/>
<rect x="1858.00" y="181.07" width="21.73" height="21.71" fill="#a64f9b"/>
<rect x="1879.33" y="181.07" width="21.73" height="21.71" fill="#9d469b"/>
<rect x="1900.67" y="181.07" width="21.73" height="21.71" fill="#a64f9b"/>
<rect x="1922.00" y="181.07" width="21.73" height="21.71" fill="#ae579b"/>
<rect x="1943.33" y="181.07" width="21.73" height="21.71" fill="#c05e91"/>
<rect x="1964.67" y="181.07" width="21.73" height="21.71" fill="#c04b7e"/>
<rect x="1986.00" y="181.07" width="21.73" height="21.71" fill="#c0689b"/>
<rect x="2007.33" y="181.07" width="21.73" height="21.71" fill="#ae579b"/>
<rect x="2028.67" y="181.07" width="21.73" height="21.71" fill="#9d469b"/>
<rect x="2050.00" y="181.07" width="21.73" height="21.71" fill="#711c9a"/>
<rect x="2071.33" y="181.07" width="170.67" height="21.71" fill="#68149a"/>
<rect x="1730.00" y="202.39" width="21.73" height="21.71" fill="#c04b7e"/>
<rect x="1751.33" y="202.39" width="21.73" height="21.71" fill="#c0386a"/>
<rect x="1772.67" y="202.39" width="21.73" height="21.71" fill="#c04274"/>
<rect x="1794.00" y="202.39" width="21.73" height="21.71" fill="#c02557"/>
<rect x="1815.33" y="202.39" width="21.73" height="21.71" fill="#c0386a"/>
<rect x="1836.67" y="202.39" width="21.73" height="21.71" fill="#b7609b"/>
<rect x="1858.00" y="202.39" width="21.73" height="21.71" fill="#ae579b"/>
<rect x="1879.33" y="202.39" width="21.73" height="21.71" fill="#a64f9b"/>
<rect x="1900.67" y="202.39" width="21.73" height="21.71" fill="#ae579b"/>
<rect x="1922.00" y="202.39" width="21.73" height="21.71" fill="#b7609b"/>
<rect x="1943.33" y="202.39" width="21.73" height="21.71" fill="#c0689b"/>
<rect x="1964.67" y="202.39" width="21.73" height="21.71" fill="#c05e91"/>
<rect x="1986.00" y="202.39" width="21.73" height="21.71" fill="#a64f9b"/>
<rect x="2007.33" y="202.39" width="21.73" height="21.71" fill="#943e9a"/>
<rect x="2028.67" y="202.39" width="21.73" height="21.71" fill="#8b369a"/>
<rect x="2050.00" y="202.39" width="21.73" height="21.71" fill="#711c9a"/>
<rect x="2071.33" y="202.39" width="170.67" height="21.71" fill="#68149a"/>
<rect x="1730.00" y="223.70" width="21.73" height="21.71" fill="#c05e91"/>
<rect x="1751.33" y="223.70" width="43.07" height="21.71" fill="#c04b7e"/>
<rect x="1794.00" y="223.70" width="21.73" height="21.71" fill="#c02e61"/>
<rect x="1815.33" y="223.70" width="21.73" height="21.71" fill="#c04b7e"/>
<rect x="1836.67" y="223.70" width="21.73" height="21.71" fill="#ae579b"/>
<rect x="1858.00" y="223.70" width="43.07" height="21.71" fill="#a64f9b"/>
<rect x="1900.67" y="223.70" width="21.73" height="21.71" fill="#ae579b"/>
<rect x="1922.00" y="223.70" width="21.73" height="21.71" fill="#b7609b"/>
<rect x="1943.33" y="223.70" width="43.07" height="21.71" fill="#c0689b"/>
<rect x="1986.00" y="223.70" width="21.73" height="21.71" fill="#9d469b"/>
<rect x="2007.33" y="223.70" width="21.73" height="21.71" fill="#822d9a"/>
<rect x="2028.67" y="223.70" width="21.73" height="21.71" fill="#7a259a"/>
<rect x="2050.00" y="223.70" width="21.73" height="21.71" fill="#711c9a"/>
<rect x="2071.33" y="223.70" width="170.67" height="21.71" fill="#68149a"/>
<rect x="1730.00" y="245.01" width="21.73" height="21.71" fill="#c0689b"/>
<rect x="1751.33" y="245.01" width="21.73" height="21.71" fill="#c05e91"/>
<rect x="1772.67" y="245.01" width="21.73" height="21.71" fill="#c05588"/>
<rect x="1794.00" y="245.01" width="21.73" height="21.71" fill="#c04274"/>
<rect x="1815.33" y="245.01" width="21.73" height="21.71" fill="#c05e91"/>
<rect x="1836.67" y="245.01" width="64.40" height="21.71" fill="#b7609b"/>
<rect x="1900.67" y="245.01" width="43.07" height="21.71" fill="#c0689b"/>
<rect x="1943.33" y="245.01" width="43.07" height="21.71" fill="#b7609b"/>
<rect x="1986.00" y="245.01" width="21.73" height="21.71" fill="#9d469b"/>
<rect x="2007.33" y="245.01" width="21.73" height="21.71" fill="#822d9a"/>
<rect x="2028.67" y="245.01" width="21.73" height="21.71" fill="#7a259a"/>
<rect x="2050.00" y="245.01" width="21.73" height="21.71" fill="#711c9a"/>
<rect x="2071.33" y="245.01" width="170.67" height="21.71" fill="#68149a"/>
<rect x="1730.00" y="266.32" width="21.73" height="21.71" fill="#711c9a"/>
<rect x="1751.33" y="266.32" width="21.73" height="21.71" fill="#822d9a"/>
<rect x="1772.67" y="266.32" width="21.73" height="21.71" fill="#a64f9b"/>
<rect x="1794.00" y="266.32" width="21.73" height="21.71" fill="#c0689b"/>
<rect x="1815.33" y="266.32" width="21.73" height="21.71" fill="#b7609b"/>
<rect x="1836.67" y="266.32" width="107.07" height="21.71" fill="#c0689b"/>
<rect x="1943.33" y="266.32" width="21.73" height="21.71" fill="#ae579b"/>
<rect x="1964.67" y="266.32" width="21.73" height="21.71" fill="#a64f9b"/>
<rect x="1986.00" y="266.32" width="21.73" height="21.71" fill="#9d469b"/>
<rect x="2007.33" y="266.32" width="21.73" height="21.71" fill="#711c9a"/>
<rect x="2028.67" y="266.32" width="213.33" height="21.71" fill="#68149a"/>
<rect x="1730.00" y="287.64" width="21.73" height="21.71" fill="#711c9a"/>
<rect x="1751.33" y="287.64" width="21.73" height="21.71" fill="#7a259a"/>
<rect x="1772.67" y="287.64" width="21.73" height="21.71" fill="#9d469b"/>
<rect x="1794.00" y="287.64" width="43.07" height="21.71" fill="#ae579b"/>
<rect x="1836.67" y="287.64" width="43.07" height="21.71" fill="#b7609b"/>
<rect x="1879.33" y="287.64" width="43.07" height="21.71" fill="#c0689b"/>
<rect x="1922.00" y="287.64" width="21.73" height="21.71" fill="#c05e91"/>
<rect x="1943.33" y="287.64" width="21.73" height="21.71" fill="#c0689b"/>
<rect x="1964.67" y="287.64" width="21.73" height="21.71" fill="#a64f9b"/>
<rect x="1986.00" y="287.64" width="21.73" height="21.71" fill="#9d469b"/>
<rect x="2007.33" y="287.64" width="21.73" height="21.71" fill="#711c9a"/>
<rect x="2028.67" y="287.64" width="213.33" height="21.71" fill="#68149a"/>
<rect x="1730.00" y="308.95" width="21.73" height="21.71" fill="#711c9a"/>
<rect x="1751.33" y="308.95" width="21.73" height="21.71" fill="#68149a"/>
<rect x="1772.67" y="308.95" width="21.73" height="21.71" fill="#8b369a"/>
<rect x="1794.00" y="308.95" width="21.73" height="21.71" fill="#9d469b"/>
<rect x="1815.33" y="308.95" width="21.73" height="21.71" fill="#a64f9b"/>
<rect x="1836.67" y="308.95" width="43.07" height="21.71" fill="#b7609b"/>
<rect x="1879.33" y="308.95" width="43.07" height="21.71" fill="#c0689b"/>
<rect x="1922.00" y="308.95" width="21.73" height="21.71" fill="#c05e91"/>
<rect x="1943.33" y="308.95" width="21.73" height="21.71" fill="#c0689b"/>
<rect x="1964.67" y="308.95" width="21.73" height="21.71" fill="#a64f9b"/>
<rect x="1986.00" y="308.95" width="21.73" height="21.71" fill="#943e9a"/>
<rect x="2007.33" y="308.95" width="21.73" height="21.71" fill="#711c9a"/>
<rect x="2028.67" y="308.95" width="213.33" height="21.71" fill="#68149a"/>
<rect x="1730.00" y="330.26" width="43.07" height="21.71" fill="#7a259a"/>
<rect x="1772.67" y="330.26" width="21.73" height="21.71" fill="#943e9a"/>
<rect x="1794.00" y="330.26" width="43.07" height="21.71" fill="#a64f9b"/>
<rect x="1836.67" y="330.26" width="43.07" height="21.71" fill="#b7609b"/>
<rect x="1879.33" y="330.26" width="64.40" height="21.71" fill="#c0689b"/>
<rect x="1943.33" y="330.26" width="21.73" height="21.71" fill="#9d469b"/>
<rect x="1964.67" y="330.26" width="21.73" height="21.71" fill="#943e9a"/>
<rect x="1986.00" y="330.26" width="21.73" height="21.71" fill="#8b369a"/>
<rect x="2007.33" y="330.26" width="21.73" height="21.71" fill="#711c9a"/>
<rect x="2028.67" y="330.26" width="213.33" height="21.71" fill="#68149a"/>
<rect x="1730.00" y="351.57" width="21.73" height="21.71" fill="#7a259a"/>
<rect x="1751.33" y="351.57" width="21.73" height="21.71" fill="#822d9a"/>
<rect x="1772.67" y="351.57" width="21.73" height="21.71" fill="#9d469b"/>
<rect x="1794.00" y="351.57" width="64.40" height="21.71" fill="#ae579b"/>
<rect x="1858.00" y="351.57" width="21.73" height="21.71" fill="#b7609b"/>
<rect x="1879.33" y="351.57" width="43.07" height="21.71" fill="#c0689b"/>
<rect x="1922.00" y="351.57" width="21.73" height="21.71" fill="#b7609b"/>
<rect x="1943.33" y="351.57" width="21.73" height="21.71" fill="#a64f9b"/>
<rect x="1964.67" y="351.57" width="43.07" height="21.71" fill="#822d9a"/>
<rect x="2007.33" y="351.57" width="21.73" height="21.71" fill="#711c9a"/>
<rect x="2028.67" y="351.57" width="213.33" height="21.71" fill="#68149a"/>
<rect x="1730.00" y="372.88" width="21.73" height="21.71" fill="#b7609b"/>
<rect x="1751.33" y="372.88" width="43.07" height="21.71" fill="#c04b7e"/>
<rect x="1794.00" y="372.88" width="21.73" height="21.71" fill="#c04274"/>
<rect x="1815.33" y="372.88" width="21.73" height="21.71" fill="#c05588"/>
<rect x="1836.67" y="372.88" width="43.07" height="21.71" fill="#c0689b"/>
<rect x="1879.33" y="372.88" width="21.73" height="21.71" fill="#b7609b"/>
<rect x="1900.67" y="372.88" width="43.07" height="21.71" fill="#ae579b"/>
<rect x="1943.33" y="372.88" width="21.73" height="21.71" fill="#a64f9b"/>
<rect x="1964.67" y="372.88" width="43.07" height="21.71" fill="#7a259a"/>
<rect x="2007.33" y="372.88" width="234.67" height="21.71" fill="#68149a"/>
<rect x="1730.00" y="394.20" width="21.73" height="21.71" fill="#c05e91"/>
<rect x="1751.33" y="394.20" width="43.07" height="21.71" fill="#c04b7e"/>
<rect x="1794.00" y="394.20" width="21.73" height="21.71" fill="#c02e61"/>
<rect x="1815.33" y="394.20" width="21.73" height="21.71" fill="#c0386a"/>
<rect x="1836.67" y="394.20" width="21.73" height="21.71" fill="#c05588"/>
<rect x="1858.00" y="394.20" width="21.73" height="21.71" fill="#c05e91"/>
<rect x="1879.33" y="394.20" width="21.73" height="21.71" fill="#b7609b"/>
<rect x="1900.67" y="394.20" width="43.07" height="21.71" fill="#ae579b"/>
<rect x="1943.33" y="394.20" width="21.73" height="21.71" fill="#9d469b"/>
<rect x="1964.67" y="394.20" width="277.33" height="21.71" fill="#68149a"/>
<rect x="1730.00" y="415.51" width="43.07" height="21.71" fill="#c0689b"/>
<rect x="1772.67" y="415.51" width="21.73" height="21.71" fill="#c04b7e"/>
<rect x="1794.00" y="415.51" width="21.73" height="21.71" fill="#c02557"/>
<rect x="1815.33" y="415.51" width="21.73" height="21.71" fill="#c02e61"/>
<rect x="1836.67" y="415.51" width="21.73" height="21.71" fill="#c0386a"/>
<rect x="1858.00" y="415.51" width="21.73" height="21.71" fill="#c05588"/>
<rect x="1879.33" y="415.51" width="21.73" height="21.71" fill="#b7609b"/>
<rect x="1900.67" y="415.51" width="43.07" height="21.71" fill="#a64f9b"/>
<rect x="1943.33" y="415.51" width="21.73" height="21.71" fill="#943e9a"/>
<rect x="1964.67" y="415.51" width="21.73" height="21.71" fill="#711c9a"/>
<rect x="1986.00" y="415.51" width="256.00" height="21.71" fill="#68149a"/>
<rect x="1730.00" y="436.82" width="21.73" height="21.71" fill="#c05588"/>
<rect x="1751.33" y="436.82" width="21.73" height="21.71" fill="#c04b7e"/>
<rect x="1772.67" y="436.82" width="21.73" height="21.71" fill="#c04274"/>
<rect x="1794.00" y="436.82" width="64.40" height="21.71" fill="#c02557"/>
<rect x="1858.00" y="436.82" width="21.73" height="21.71" fill="#c04b7e"/>
<rect x="1879.33" y="436.82" width="21.73" height="21.71" fill="#b7609b"/>
<rect x="1900.67" y="436.82" width="21.73" height="21.71" fill="#a64f9b"/>
<rect x="1922.00" y="436.82" width="21.73" height="21.71" fill="#ae579b"/>
<rect x="1943.33" y="436.82" width="21.73" height="21.71" fill="#943e9a"/>
<rect x="1964.67" y="436.82" width="43.07" height="21.71" fill="#711c9a"/>
<rect x="2007.33" y="436.82" width="234.67" height="21.71" fill="#68149a"/>
<rect x="1730.00" y="458.13" width="21.73" height="21.71" fill="#c0689b"/>
<rect x="1751.33" y="458.13" width="21.73" height="21.71" fill="#c04b7e"/>
<rect x="1772.67" y="458.13" width="21.73" height="21.71" fill="#c04274"/>
<rect x="1794.00" y="458.13" width="43.07" height="21.71" fill="#c0386a"/>
<rect x="1836.67" y="458.13" width="21.73" height="21.71" fill="#c02557"/>
<rect x="1858.00" y="458.13" width="21.73" height="21.71" fill="#c04b7e"/>
<rect x="1879.33" y="458.13" width="21.73" height="21.71" fill="#ae579b"/>
<rect x="1900.67" y="458.13" width="21.73" height="21.71" fill="#a64f9b"/>
<rect x="1922.00" y="458.13" width="43.07" height="21.71" fill="#9d469b"/>
<rect x="1964.67" y="458.13" width="43.07" height="21.71" fill="#943e9a"/>
<rect x="2007.33" y="458.13" width="21.73" height="21.71" fill="#8b369a"/>
<rect x="2028.67" y="458.13" width="21.73" height="21.71" fill="#822d9a"/>
<rect x="2050.00" y="458.13" width="21.73" height="21.71" fill="#711c9a"/>
<rect x="2071.33" y="458.13" width="170.67" height="21.71" fill="#68149a"/>
<rect x="1730.00" y="479.45" width="21.73" height="21.71" fill="#8b369a"/>
<rect x="1751.33" y="479.45" width="21.73" height="21.71" fill="#9d469b"/>
<rect x="1772.67" y="479.45" width="21.73" height="21.71" fill="#c05588"/>
<rect x="1794.00" y="479.45" width="21.73" height="21.71" fill="#c04274"/>
<rect x="1815.33" y="479.45" width="21.73" height="21.71" fill="#c04b7e"/>
<rect x="1836.67" y="479.45" width="21.73" height="21.71" fill="#c02557"/>
<rect x="1858.00" y="479.45" width="21.73" height="21.71" fill="#c04b7e"/>
<rect x="1879.33" y="479.45" width="64.40" height="21.71" fill="#a64f9b"/>
<rect x="1943.33" y="479.45" width="43.07" height="21.71" fill="#9d469b"/>
<rect x="1986.00" y="479.45" width="21.73" height="21.71" fill="#943e9a"/>
<rect x="2007.33" y="479.45" width="21.73" height="21.71" fill="#8b369a"/>
<rect x="2028.67" y="479.45" width="21.73" height="21.71" fill="#822d9a"/>
<rect x="2050.00" y="479.45" width="21.73" height="21.71" fill="#7a259a"/>
<rect x="2071.33" y="479.45" width="21.73" height="21.71" fill="#711c9a"/>
<rect x="2092.67" y="479.45" width="149.33" height="21.71" fill="#68149a"/>
<rect x="1730.00" y="500.76" width="21.73" height="21.71" fill="#7a259a"/>
<rect x="1751.33" y="500.76" width="21.73" height="21.71" fill="#822d9a"/>
<rect x="1772.67" y="500.76" width="21.73" height="21.71" fill="#c0689b"/>
<rect x="1794.00" y="500.76" width="21.73" height="21.71" fill="#c05e91"/>
<rect x="1815.33" y="500.76" width="21.73" height="21.71" fill="#c04b7e"/>
<rect x="1836.67" y="500.76" width="21.73" height="21.71" fill="#c0386a"/>
<rect x="1858.00" y="500.76" width="21.73" height="21.71" fill="#c04b7e"/>
<rect x="1879.33" y="500.76" width="43.07" height="21.71" fill="#b7609b"/>
<rect x="1922.00" y="500.76" width="21.73" height="21.71" fill="#ae579b"/>
<rect x="1943.33" y="500.76" width="107.07" height="21.71" fill="#a64f9b"/>
<rect x="2050.00" y="500.76" width="21.73" height="21.71" fill="#943e9a"/>
<rect x="2071.33" y="500.76" width="21.73" height="21.71" fill="#8b369a"/>
<rect x="2092.67" y="500.76" width="21.73" height="21.71" fill="#711c9a"/>
<rect x="2114.00" y="500.76" width="128.00" height="21.71" fill="#68149a"/>
<rect x="1730.00" y="522.07" width="21.73" height="21.71" fill="#5c0aa0"/>
<rect x="1751.33" y="522.07" width="21.73" height="21.71" fill="#5202a8"/>
<rect x="1772.67" y="522.07" width="21.73" height="21.71" fill="#822d9a"/>
<rect x="1794.00" y="522.07" width="21.73" height="21.71" fill="#9d469b"/>
<rect x="1815.33" y="522.07" width="21.73" height="21.71" fill="#c0689b"/>
<rect x="1836.67" y="522.07" width="21.73" height="21.71" fill="#c05588"/>
<rect x="1858.00" y="522.07" width="21.73" height="21.71" fill="#c05e91"/>
<rect x="1879.33" y="522.07" width="43.07" height="21.71" fill="#c0689b"/>
<rect x="1922.00" y="522.07" width="21.73" height="21.71" fill="#b7609b"/>
<rect x="1943.33" y="522.07" width="107.07" height="21.71" fill="#ae579b"/>
<rect x="2050.00" y="522.07" width="21.73" height="21.71" fill="#9d469b"/>
<rect x="2071.33" y="522.07" width="21.73" height="21.71" fill="#943e9a"/>
<rect x="2092.67" y="522.07" width="21.73" height="21.71" fill="#711c9a"/>
<rect x="2114.00" y="522.07" width="128.00" height="21.71" fill="#68149a"/>
<rect x="1730.00" y="543.38" width="43.07" height="21.71" fill="#5c0aa0"/>
<rect x="1772.67" y="543.38" width="21.73" height="21.71" fill="#822d9a"/>
<rect x="1794.00" y="543.38" width="21.73" height="21.71" fill="#943e9a"/>
<rect x="1815.33" y="543.38" width="21.73" height="21.71" fill="#b7609b"/>
<rect x="1836.67" y="543.38" width="64.40" height="21.71" fill="#c0689b"/>
<rect x="1900.67" y="543.38" width="21.73" height="21.71" fill="#b7609b"/>
<rect x="1922.00" y="543.38" width="21.73" height="21.71" fill="#ae579b"/>
<rect x="1943.33" y="543.38" width="85.73" height="21.71" fill="#c0689b"/>
<rect x="2028.67" y="543.38" width="21.73" height="21.71" fill="#ae579b"/>
<rect x="2050.00" y="543.38" width="21.73" height="21.71" fill="#9d469b"/>
<rect x="2071.33" y="543.38" width="21.73" height="21.71" fill="#8b369a"/>
<rect x="2092.67" y="543.38" width="21.73" height="21.71" fill="#711c9a"/>
<rect x="2114.00" y="543.38" width="128.00" height="21.71" fill="#68149a"/>
<rect x="1730.00" y="564.69" width="43.07" height="21.71" fill="#68149a"/>
<rect x="1772.67" y="564.69" width="21.73" height="21.71" fill="#822d9a"/>
<rect x="1794.00" y="564.69" width="21.73" height="21.71" fill="#943e9a"/>
<rect x="1815.33" y="564.69" width="21.73" height="21.71" fill="#ae579b"/>
<rect x="1836.67" y="564.69" width="43.07" height="21.71" fill="#b7609b"/>
<rect x="1879.33" y="564.69" width="149.73" height="21.71" fill="#c0689b"/>
<rect x="2028.67" y="564.69" width="21.73" height="21.71" fill="#ae579b"/>
<rect x="2050.00" y="564.69" width="21.73" height="21.71" fill="#a64f9b"/>
<rect x="2071.33" y="564.69" width="21.73" height="21.71" fill="#8b369a"/>
<rect x="2092.67" y="564.69" width="21.73" height="21.71" fill="#711c9a"/>
<rect x="2114.00" y="564.69" width="128.00" height="21.71" fill="#68149a"/>
<rect x="1730.00" y="586.01" width="43.07" height="21.71" fill="#68149a"/>
<rect x="1772.67" y="586.01" width="21.73" height="21.71" fill="#822d9a"/>
<rect x="1794.00" y="586.01" width="21.73" height="21.71" fill="#9d469b"/>
<rect x="1815.33" y="586.01" width="21.73" height="21.71" fill="#a64f9b"/>
<rect x="1836.67" y="586.01" width="43.07" height="21.71" fill="#b7609b"/>
<rect x="1879.33" y="586.01" width="107.07" height="21.71" fill="#c0689b"/>
<rect x="1986.00" y="586.01" width="21.73" height="21.71" fill="#b7609b"/>
<rect x="2007.33" y="586.01" width="21.73" height="21.71" fill="#ae579b"/>
<rect x="2028.67" y="586.01" width="21.73" height="21.71" fill="#a64f9b"/>
<rect x="2050.00" y="586.01" width="21.73" height="21.71" fill="#9d469b"/>
<rect x="2071.33" y="586.01" width="21.73" height="21.71" fill="#8b369a"/>
<rect x="2092.67" y="586.01" width="21.73" height="21.71" fill="#711c9a"/>
<rect x="2114.00" y="586.01" width="128.00" height="21.71" fill="#68149a"/>
<rect x="1730.00" y="607.32" width="43.07" height="21.71" fill="#711c9a"/>
<rect x="1772.67" y="607.32" width="21.73" height="21.71" fill="#822d9a"/>
<rect x="1794.00" y="607.32" width="21.73" height="21.71" fill="#943e9a"/>
<rect x="1815.33" y="607.32" width="21.73" height="21.71" fill="#a64f9b"/>
<rect x="1836.67" y="607.32" width="21.73" height="21.71" fill="#ae579b"/>
<rect x="1858.00" y="607.32" width="21.73" height="21.71" fill="#b7609b"/>
<rect x="1879.33" y="607.32" width="107.07" height="21.71" fill="#c0689b"/>
<rect x="1986.00" y="607.32" width="21.73" height="21.71" fill="#b7609b"/>
<rect x="2007.33" y="607.32" width="21.73" height="21.71" fill="#a64f9b"/>
<rect x="2028.67" y="607.32" width="21.73" height="21.71" fill="#9d469b"/>
<rect x="2050.00" y="607.32" width="21.73" height="21.71" fill="#822d9a"/>
<rect x="2071.33" y="607.32" width="21.73" height="21.71" fill="#7a259a"/>
<rect x="2092.67" y="607.32" width="149.33" height="21.71" fill="#68149a"/>
<rect x="1730.00" y="628.63" width="21.73" height="21.71" fill="#711c9a"/>
<rect x="1751.33" y="628.63" width="21.73" height="21.71" fill="#7a259a"/>
<rect x="1772.67" y="628.63" width="21.73" height="21.71" fill="#822d9a"/>
<rect x="1794.00" y="628.63" width="21.73" height="21.71" fill="#943e9a"/>
<rect x="1815.33" y="628.63" width="21.73" height="21.71" fill="#a64f9b"/>
<rect x="1836.67" y="628.63" width="21.73" height="21.71" fill="#ae579b"/>
<rect x="1858.00" y="628.63" width="21.73" height="21.71" fill="#b7609b"/>
<rect x="1879.33" y="628.63" width="64.40" height="21.71" fill="#c0689b"/>
<rect x="1943.33" y="628.63" width="21.73" height="21.71" fill="#b7609b"/>
<rect x="1964.67" y="628.63" width="21.73" height="21.71" fill="#ae579b"/>
<rect x="1986.00" y="628.63" width="21.73" height="21.71" fill="#9d469b"/>
<rect x="2007.33" y="628.63" width="21.73" height="21.71" fill="#943e9a"/>
<rect x="2028.67" y="628.63" width="21.73" height="21.71" fill="#822d9a"/>
<rect x="2050.00" y="628.63" width="21.73" height="21.71" fill="#711c9a"/>
<rect x="2071.33" y="628.63" width="170.67" height="21.71" fill="#68149a"/>
<rect x="1730.00" y="649.94" width="21.73" height="21.71" fill="#711c9a"/>
<rect x="1751.33" y="649.94" width="21.73" height="21.71" fill="#7a259a"/>
<rect x="1772.67" y="649.94" width="21.73" height="21.71" fill="#8b369a"/>
<rect x="1794.00" y="649.94" width="21.73" height="21.71" fill="#943e9a"/>
<rect x="1815.33" y="649.94" width="21.73" height="21.71" fill="#a64f9b"/>
<rect x="1836.67" y="649.94" width="21.73" height="21.71" fill="#ae579b"/>
<rect x="1858.00" y="649.94" width="21.73" height="21.71" fill="#b7609b"/>
<rect x="1879.33" y="649.94" width="21.73" height="21.71" fill="#c05e91"/>
<rect x="1900.67" y="649.94" width="21.73" height="21.71" fill="#c0689b"/>
<rect x="1922.00" y="649.94" width="43.07" height="21.71" fill="#b7609b"/>
<rect x="1964.67" y="649.94" width="21.73" height="21.71" fill="#9d469b"/>
<rect x="1986.00" y="649.94" width="21.73" height="21.71" fill="#943e9a"/>
<rect x="2007.33" y="649.94" width="234.67" height="21.71" fill="#68149a"/>
<rect x="1730.00" y="671.26" width="21.73" height="21.71" fill="#711c9a"/>
<rect x="1751.33" y="671.26" width="21.73" height="21.71" fill="#7a259a"/>
<rect x="1772.67" y="671.26" width="21.73" height="21.71" fill="#8b369a"/>
<rect x="1794.00" y="671.26" width="21.73" height="21.71" fill="#9d469b"/>
<rect x="1815.33" y="671.26" width="21.73" height="21.71" fill="#a64f9b"/>
<rect x="1836.67" y="671.26" width="43.07" height="21.71" fill="#b7609b"/>
<rect x="1879.33" y="671.26" width="21.73" height="21.71" fill="#c0689b"/>
<rect x="1900.67" y="671.26" width="21.73" height="21.71" fill="#ae579b"/>
<rect x="1922.00" y="671.26" width="43.07" height="21.71" fill="#a64f9b"/>
<rect x="1964.67" y="671.26" width="21.73" height="21.71" fill="#8b369a"/>
<rect x="1986.00" y="671.26" width="21.73" height="21.71" fill="#822d9a"/>
<rect x="2007.33" y="671.26" width="234.67" height="21.71" fill="#68149a"/>
<rect x="1730.00" y="692.57" width="21.73" height="21.71" fill="#711c9a"/>
<rect x="1751.33" y="692.57" width="21.73" height="21.71" fill="#7a259a"/>
<rect x="1772.67" y="692.57" width="21.73" height="21.71" fill="#8b369a"/>
<rect x="1794.00" y="692.57" width="21.73" height="21.71" fill="#9d469b"/>
<rect x="1815.33" y="692.57" width="21.73" height="21.71" fill="#a64f9b"/>
<rect x="1836.67" y="692.57" width="64.40" height="21.71" fill="#b7609b"/>
<rect x="1900.67" y="692.57" width="21.73" height="21.71" fill="#a64f9b"/>
<rect x="1922.00" y="692.57" width="21.73" height="21.71" fill="#8b369a"/>
<rect x="1943.33" y="692.57" width="21.73" height="21.71" fill="#822d9a"/>
<rect x="1964.67" y="692.57" width="277.33" height="21.71" fill="#68149a"/>
<rect x="1730.00" y="713.88" width="21.73" height="21.71" fill="#7a259a"/>
<rect x="1751.33" y="713.88" width="21.73" height="21.71" fill="#822d9a"/>
<rect x="1772.67" y="713.88" width="21.73" height="21.71" fill="#8b369a"/>
<rect x="1794.00" y="713.88" width="21.73" height="21.71" fill="#9d469b"/>
<rect x="1815.33" y="713.88" width="21.73" height="21.71" fill="#ae579b"/>
<rect x="1836.67" y="713.88" width="43.07" height="21.71" fill="#b7609b"/>
<rect x="1879.33" y="713.88" width="21.73" height="21.71" fill="#a64f9b"/>
<rect x="1900.67" y="713.88" width="21.73" height="21.71" fill="#9d469b"/>
<rect x="1922.00" y="713.88" width="21.73" height="21.71" fill="#8b369a"/>
<rect x="1943.33" y="713.88" width="21.73" height="21.71" fill="#822d9a"/>
<rect x="1964.67" y="713.88" width="277.33" height="21.71" fill="#68149a"/>
<rect x="1730.00" y="735.19" width="21.73" height="21.71" fill="#7a259a"/>
<rect x="1751.33" y="735.19" width="21.73" height="21.71" fill="#822d9a"/>
<rect x="1772.67" y="735.19" width="21.73" height="21.71" fill="#943e9a"/>
<rect x="1794.00" y="735.19" width="21.73" height="21.71" fill="#a64f9b"/>
<rect x="1815.33" y="735.19" width="21.73" height="21.71" fill="#b7609b"/>
<rect x="1836.67" y="735.19" width="21.73" height="21.71" fill="#c0689b"/>
<rect x="1858.00" y="735.19" width="21.73" height="21.71" fill="#a64f9b"/>
<rect x="1879.33" y="735.19" width="43.07" height="21.71" fill="#9d469b"/>
<rect x="1922.00" y="735.19" width="21.73" height="21.71" fill="#711c9a"/>
<rect x="1943.33" y="735.19" width="298.67" height="21.71" fill="#68149a"/>
<rect x="1730.00" y="756.51" width="21.73" height="21.71" fill="#822d9a"/>
<rect x="1751.33" y="756.51" width="43.07" height="21.71" fill="#943e9a"/>
<rect x="1794.00" y="756.51" width="21.73" height="21.71" fill="#a64f9b"/>
<rect x="1815.33" y="756.51" width="21.73" height="21.71" fill="#b7609b"/>
<rect x="1836.67" y="756.51" width="21.73" height="21.71" fill="#c0689b"/>
<rect x="1858.00" y="756.51" width="43.07" height="21.71" fill="#9d469b"/>
<rect x="1900.67" y="756.51" width="21.73" height="21.71" fill="#8b369a"/>
<rect x="1922.00" y="756.51" width="21.73" height="21.71" fill="#711c9a"/>
<rect x="1943.33" y="756.51" width="298.67" height="21.71" fill="#68149a"/>
<rect x="1730.00" y="777.82" width="21.73" height="21.71" fill="#8b369a"/>
<rect x="1751.33" y="777.82" width="43.07" height="21.71" fill="#9d469b"/>
<rect x="1794.00" y="777.82" width="21.73" height="21.71" fill="#a64f9b"/>
<rect x="1815.33" y="777.82" width="43.07" height="21.71" fill="#b7609b"/>
<rect x="1858.00" y="777.82" width="21.73" height="21.71" fill="#9d469b"/>
<rect x="1879.33" y="777.82" width="21.73" height="21.71" fill="#822d9a"/>
<rect x="1900.67" y="777.82" width="21.73" height="21.71" fill="#7a259a"/>
<rect x="1922.00" y="777.82" width="320.00" height="21.71" fill="#68149a"/>
<rect x="1730.00" y="799.13" width="21.73" height="21.71" fill="#9d469b"/>
<rect x="1751.33" y="799.13" width="21.73" height="21.71" fill="#ae579b"/>
<rect x="1772.67" y="799.13" width="85.73" height="21.71" fill="#a64f9b"/>
<rect x="1858.00" y="799.13" width="21.73" height="21.71" fill="#9d469b"/>
<rect x="1879.33" y="799.13" width="21.73" height="21.71" fill="#8b369a"/>
<rect x="1900.67" y="799.13" width="21.73" height="21.71" fill="#822d9a"/>
<rect x="1922.00" y="799.13" width="43.07" height="21.71" fill="#7a259a"/>
<rect x="1964.67" y="799.13" width="43.07" height="21.71" fill="#711c9a"/>
<rect x="2007.33" y="799.13" width="234.67" height="21.71" fill="#68149a"/>
<rect x="1730.00" y="820.44" width="21.73" height="21.71" fill="#ae579b"/>
<rect x="1751.33" y="820.44" width="21.73" height="21.71" fill="#b7609b"/>
<rect x="1772.67" y="820.44" width="21.73" height="21.71" fill="#ae579b"/>
<rect x="1794.00" y="820.44" width="64.40" height="21.71" fill="#a64f9b"/>
<rect x="1858.00" y="820.44" width="21.73" height="21.71" fill="#9d469b"/>
<rect x="1879.33" y="820.44" width="21.73" height="21.71" fill="#943e9a"/>
<rect x="1900.67" y="820.44" width="21.73" height="21.71" fill="#8b369a"/>
<rect x="1922.00" y="820.44" width="43.07" height="21.71" fill="#822d9a"/>
<rect x="1964.67" y="820.44" width="43.07" height="21.71" fill="#7a259a"/>
<rect x="2007.33" y="820.44" width="234.67" height="21.71" fill="#68149a"/>
<rect x="1730.00" y="841.75" width="21.73" height="21.71" fill="#a64f9b"/>
<rect x="1751.33" y="841.75" width="21.73" height="21.71" fill="#ae579b"/>
<rect x="1772.67" y="841.75" width="21.73" height="21.71" fill="#b7609b"/>
<rect x="1794.00" y="841.75" width="64.40" height="21.71" fill="#ae579b"/>
<rect x="1858.00" y="841.75" width="107.07" height="21.71" fill="#9d469b"/>
<rect x="1964.67" y="841.75" width="21.73" height="21.71" fill="#943e9a"/>
<rect x="1986.00" y="841.75" width="21.73" height="21.71" fill="#8b369a"/>
<rect x="2007.33" y="841.75" width="234.67" height="21.71" fill="#68149a"/>
<rect x="1730.00" y="863.07" width="21.73" height="21.71" fill="#9d469b"/>
<rect x="1751.33" y="863.07" width="21.73" height="21.71" fill="#a64f9b"/>
<rect x="1772.67" y="863.07" width="43.07" height="21.71" fill="#b7609b"/>
<rect x="1815.33" y="863.07" width="43.07" height="21.71" fill="#ae579b"/>
<rect x="1858.00" y="863.07" width="43.07" height="21.71" fill="#b7609b"/>
<rect x="1900.67" y="863.07" width="43.07" height="21.71" fill="#c0689b"/>
<rect x="1943.33" y="863.07" width="21.73" height="21.71" fill="#ae579b"/>
<rect x="1964.67" y="863.07" width="21.73" height="21.71" fill="#a64f9b"/>
<rect x="1986.00" y="863.07" width="21.73" height="21.71" fill="#9d469b"/>
<rect x="2007.33" y="863.07" width="21.73" height="21.71" fill="#711c9a"/>
<rect x="2028.67" y="863.07" width="213.33" height="21.71" fill="#68149a"/>
<rect x="1730.00" y="884.38" width="21.73" height="21.71" fill="#9d469b"/>
<rect x="1751.33" y="884.38" width="21.73" height="21.71" fill="#ae579b"/>
<rect x="1772.67" y="884.38" width="21.73" height="21.71" fill="#b7609b"/>
<rect x="1794.00" y="884.38" width="64.40" height="21.71" fill="#ae579b"/>
<rect x="1858.00" y="884.38" width="64.40" height="21.71" fill="#b7609b"/>
<rect x="1922.00" y="884.38" width="21.73" height="21.71" fill="#ae579b"/>
<rect x="1943.33" y="884.38" width="21.73" height="21.71" fill="#a64f9b"/>
<rect x="1964.67" y="884.38" width="21.73" height="21.71" fill="#9d469b"/>
<rect x="1986.00" y="884.38" width="21.73" height="21.71" fill="#943e9a"/>
<rect x="2007.33" y="884.38" width="21.73" height="21.71" fill="#711c9a"/>
<rect x="2028.67" y="884.38" width="213.33" height="21.71" fill="#68149a"/>
<rect x="1730.00" y="905.69" width="21.73" height="21.71" fill="#9d469b"/>
<rect x="1751.33" y="905.69" width="21.73" height="21.71" fill="#b7609b"/>
<rect x="1772.67" y="905.69" width="21.73" height="21.71" fill="#a64f9b"/>
<rect x="1794.00" y="905.69" width="64.40" height="21.71" fill="#ae579b"/>
<rect x="1858.00" y="905.69" width="85.73" height="21.71" fill="#b7609b"/>
<rect x="1943.33" y="905.69" width="21.73" height="21.71" fill="#ae579b"/>
<rect x="1964.67" y="905.69" width="21.73" height="21.71" fill="#9d469b"/>
<rect x="1986.00" y="905.69" width="21.73" height="21.71" fill="#943e9a"/>
<rect x="2007.33" y="905.69" width="21.73" height="21.71" fill="#711c9a"/>
<rect x="2028.67" y="905.69" width="213.33" height="21.71" fill="#68149a"/>
<rect x="1730.00" y="927.00" width="21.73" height="21.71" fill="#b7609b"/>
<rect x="1751.33" y="927.00" width="21.73" height="21.71" fill="#c05e91"/>
<rect x="1772.67" y="927.00" width="43.07" height="21.71" fill="#c0689b"/>
<rect x="1815.33" y="927.00" width="64.40" height="21.71" fill="#b7609b"/>
<rect x="1879.33" y="927.00" width="43.07" height="21.71" fill="#c0689b"/>
<rect x="1922.00" y="927.00" width="21.73" height="21.71" fill="#b7609b"/>
<rect x="1943.33" y="927.00" width="21.73" height="21.71" fill="#ae579b"/>
<rect x="1964.67" y="927.00" width="21.73" height="21.71" fill="#a64f9b"/>
<rect x="1986.00" y="927.00" width="21.73" height="21.71" fill="#943e9a"/>
<rect x="2007.33" y="927.00" width="21.73" height="21.71" fill="#711c9a"/>
<rect x="2028.67" y="927.00" width="213.33" height="21.71" fill="#68149a"/>
<rect x="1730.00" y="948.32" width="21.73" height="21.71" fill="#c0689b"/>
<rect x="1751.33" y="948.32" width="21.73" height="21.71" fill="#c05588"/>
<rect x="1772.67" y="948.32" width="21.73" height="21.71" fill="#c05e91"/>
<rect x="1794.00" y="948.32" width="64.40" height="21.71" fill="#c0689b"/>
<rect x="1858.00" y="948.32" width="21.73" height="21.71" fill="#b7609b"/>
<rect x="1879.33" y="948.32" width="43.07" height="21.71" fill="#c0689b"/>
<rect x="1922.00" y="948.32" width="21.73" height="21.71" fill="#b7609b"/>
<rect x="1943.33" y="948.32" width="43.07" height="21.71" fill="#a64f9b"/>
<rect x="1986.00" y="948.32" width="21.73" height="21.71" fill="#943e9a"/>
<rect x="2007.33" y="948.32" width="234.67" height="21.71" fill="#68149a"/>
<rect x="1730.00" y="969.63" width="21.73" height="21.71" fill="#c0689b"/>
<rect x="1751.33" y="969.63" width="64.40" height="21.71" fill="#c04b7e"/>
<rect x="1815.33" y="969.63" width="21.73" height="21.71" fill="#c05e91"/>
<rect x="1836.67" y="969.63" width="21.73" height="21.71" fill="#b7609b"/>
<rect x="1858.00" y="969.63" width="43.07" height="21.71" fill="#ae579b"/>
<rect x="1900.67" y="969.63" width="21.73" height="21.71" fill="#b7609b"/>
<rect x="1922.00" y="969.63" width="43.07" height="21.71" fill="#9d469b"/>
<rect x="1964.67" y="969.63" width="21.73" height="21.71" fill="#943e9a"/>
<rect x="1986.00" y="969.63" width="21.73" height="21.71" fill="#8b369a"/>
<rect x="2007.33" y="969.63" width="234.67" height="21.71" fill="#68149a"/>
<rect x="1730.00" y="990.94" width="21.73" height="21.71" fill="#c0689b"/>
<rect x="1751.33" y="990.94" width="21.73" height="21.71" fill="#c04b7e"/>
<rect x="1772.67" y="990.94" width="43.07" height="21.71" fill="#c04274"/>
<rect x="1815.33" y="990.94" width="21.73" height="21.71" fill="#c05588"/>
<rect x="1836.67" y="990.94" width="21.73" height="21.71" fill="#c0689b"/>
<rect x="1858.00" y="990.94" width="43.07" height="21.71" fill="#ae579b"/>
<rect x="1900.67" y="990.94" width="21.73" height="21.71" fill="#a64f9b"/>
<rect x="1922.00" y="990.94" width="64.40" height="21.71" fill="#822d9a"/>
<rect x="1986.00" y="990.94" width="21.73" height="21.71" fill="#7a259a"/>
<rect x="2007.33" y="990.94" width="234.67" height="21.71" fill="#68149a"/>
<rect x="1730.00" y="1012.25" width="21.73" height="21.71" fill="#c05e91"/>
<rect x="1751.33" y="1012.25" width="21.73" height="21.71" fill="#c04274"/>
<rect x="1772.67" y="1012.25" width="43.07" height="21.71" fill="#c0386a"/>
<rect x="1815.33" y="1012.25" width="21.73" height="21.71" fill="#c05588"/>
<rect x="1836.67" y="1012.25" width="21.73" height="21.71" fill="#c0689b"/>
<rect x="1858.00" y="1012.25" width="21.73" height="21.71" fill="#ae579b"/>
<rect x="1879.33" y="1012.25" width="21.73" height="21.71" fill="#a64f9b"/>
<rect x="1900.67" y="1012.25" width="21.73" height="21.71" fill="#8b369a"/>
<rect x="1922.00" y="1012.25" width="43.07" height="21.71" fill="#7a259a"/>
<rect x="1964.67" y="1012.25" width="21.73" height="21.71" fill="#822d9a"/>
<rect x="1986.00" y="1012.25" width="21.73" height="21.71" fill="#711c9a"/>
<rect x="2007.33" y="1012.25" width="234.67" height="21.71" fill="#68149a"/>
<rect x="1730.00" y="1033.56" width="21.73" height="21.71" fill="#c05588"/>
<rect x="1751.33" y="1033.56" width="21.73" height="21.71" fill="#c0386a"/>
<rect x="1772.67" y="1033.56" width="43.07" height="21.71" fill="#c02e61"/>
<rect x="1815.33" y="1033.56" width="21.73" height="21.71" fill="#c04b7e"/>
<rect x="1836.67" y="1033.56" width="21.73" height="21.71" fill="#b7609b"/>
<rect x="1858.00" y="1033.56" width="21.73" height="21.71" fill="#a64f9b"/>
<rect x="1879.33" y="1033.56" width="21.73" height="21.71" fill="#9d469b"/>
<rect x="1900.67" y="1033.56" width="21.73" height="21.71" fill="#822d9a"/>
<rect x="1922.00" y="1033.56" width="320.00" height="21.71" fill="#68149a"/>
<rect x="1730.00" y="1054.88" width="21.73" height="21.71" fill="#c04b7e"/>
<rect x="1751.33" y="1054.88" width="43.07" height="21.71" fill="#c02557"/>
<rect x="1794.00" y="1054.88" width="21.73" height="21.71" fill="#c02e61"/>
<rect x="1815.33" y="1054.88" width="21.73" height="21.71" fill="#c05588"/>
<rect x="1836.67" y="1054.88" width="21.73" height="21.71" fill="#b7609b"/>
<rect x="1858.00" y="1054.88" width="21.73" height="21.71" fill="#a64f9b"/>
<rect x="1879.33" y="1054.88" width="21.73" height="21.71" fill="#8b369a"/>
<rect x="1900.67" y="1054.88" width="21.73" height="21.71" fill="#822d9a"/>
<rect x="1922.00" y="1054.88" width="320.00" height="21.71" fill="#68149a"/>
<rect x="1730.00" y="1076.19" width="21.73" height="21.71" fill="#c04274"/>
<rect x="1751.33" y="1076.19" width="43.07" height="21.71" fill="#c01b4d"/>
<rect x="1794.00" y="1076.19" width="21.73" height="21.71" fill="#c02e61"/>
<rect x="1815.33" y="1076.19" width="21.73" height="21.71" fill="#c05588"/>
<rect x="1836.67" y="1076.19" width="21.73" height="21.71" fill="#b7609b"/>
<rect x="1858.00" y="1076.19" width="21.73" height="21.71" fill="#a64f9b"/>
<rect x="1879.33" y="1076.19" width="21.73" height="21.71" fill="#7a259a"/>
<rect x="1900.67" y="1076.19" width="21.73" height="21.71" fill="#711c9a"/>
<rect x="1922.00" y="1076.19" width="320.00" height="21.71" fill="#68149a"/>
<rect x="1730.00" y="1097.50" width="21.73" height="21.71" fill="#c05588"/>
<rect x="1751.33" y="1097.50" width="43.07" height="21.71" fill="#c0386a"/>
<rect x="1794.00" y="1097.50" width="21.73" height="21.71" fill="#c04b7e"/>
<rect x="1815.33" y="1097.50" width="21.73" height="21.71" fill="#c05e91"/>
<rect x="1836.67" y="1097.50" width="21.73" height="21.71" fill="#ae579b"/>
<rect x="1858.00" y="1097.50" width="21.73" height="21.71" fill="#a64f9b"/>
<rect x="1879.33" y="1097.50" width="21.73" height="21.71" fill="#7a259a"/>
<rect x="1900.67" y="1097.50" width="21.73" height="21.71" fill="#711c9a"/>
<rect x="1922.00" y="1097.50" width="320.00" height="21.71" fill="#68149a"/>
<rect x="1730.00" y="1118.81" width="21.73" height="21.71" fill="#c05e91"/>
<rect x="1751.33" y="1118.81" width="21.73" height="21.71" fill="#c04b7e"/>
<rect x="1772.67" y="1118.81" width="21.73" height="21.71" fill="#c05588"/>
<rect x="1794.00" y="1118.81" width="21.73" height="21.71" fill="#c05e91"/>
<rect x="1815.33" y="1118.81" width="21.73" height="21.71" fill="#c0689b"/>
<rect x="1836.67" y="1118.81" width="21.73" height="21.71" fill="#a64f9b"/>
<rect x="1858.00" y="1118.81" width="21.73" height="21.71" fill="#8b369a"/>
<rect x="1879.33" y="1118.81" width="362.67" height="21.71" fill="#68149a"/>
<rect x="1730.00" y="1140.13" width="21.73" height="21.71" fill="#c0689b"/>
<rect x="1751.33" y="1140.13" width="21.73" height="21.71" fill="#c05588"/>
<rect x="1772.67" y="1140.13" width="21.73" height="21.71" fill="#c05e91"/>
<rect x="1794.00" y="1140.13" width="21.73" height="21.71" fill="#c0689b"/>
<rect x="1815.33" y="1140.13" width="21.73" height="21.71" fill="#a64f9b"/>
<rect x="1836.67" y="1140.13" width="21.73" height="21.71" fill="#8b369a"/>
<rect x="1858.00" y="1140.13" width="21.73" height="21.71" fill="#7a259a"/>
<rect x="1879.33" y="1140.13" width="362.67" height="21.71" fill="#68149a"/>
<rect x="1730.00" y="1161.44" width="21.73" height="21.71" fill="#7a259a"/>
<rect x="1751.33" y="1161.44" width="64.40" height="21.71" fill="#8b369a"/>
<rect x="1815.33" y="1161.44" width="21.73" height="21.71" fill="#822d9a"/>
<rect x="1836.67" y="1161.44" width="192.40" height="21.71" fill="#6a179a"/>
<rect x="2028.67" y="1161.44" width="213.33" height="21.71" fill="#68149a"/>
<rect x="1730.00" y="1182.75" width="21.73" height="21.71" fill="#7a259a"/>
<rect x="1751.33" y="1182.75" width="64.40" height="21.71" fill="#822d9a"/>
<rect x="1815.33" y="1182.75" width="21.73" height="21.71" fill="#7a259a"/>
<rect x="1836.67" y="1182.75" width="192.40" height="21.71" fill="#6a179a"/>
<rect x="2028.67" y="1182.75" width="213.33" height="21.71" fill="#68149a"/>
<rect x="1730.00" y="1204.06" width="107.07" height="21.71" fill="#711c9a"/>
<rect x="1836.67" y="1204.06" width="192.40" height="21.71" fill="#6a179a"/>
<rect x="2028.67" y="1204.06" width="213.33" height="21.71" fill="#68149a"/>
<rect x="1730.00" y="1225.38" width="107.07" height="21.71" fill="#711c9a"/>
<rect x="1836.67" y="1225.38" width="192.40" height="21.71" fill="#6a179a"/>
<rect x="2028.67" y="1225.38" width="213.33" height="21.71" fill="#68149a"/>
<rect x="1730.00" y="1246.69" width="107.07" height="21.31" fill="#711c9a"/>
<rect x="1836.67" y="1246.69" width="192.40" height="21.31" fill="#6a179a"/>
<rect x="2028.67" y="1246.69" width="213.33" height="21.31" fill="#68149a"/>
</svg>
<svg width="2278" height="1283" viewBox="0 0 2278 1283" style="position:absolute;left:0;top:0">
<g fill="#000" font-family="&quot;Liberation Sans&quot;, sans-serif" font-size="33" font-weight="bold">
<text x="207.5" y="40.35" textLength="146.6" lengthAdjust="spacingAndGlyphs">sar2372</text>
<text x="945.4" y="40.35" textLength="387.6" lengthAdjust="spacingAndGlyphs">2024-03-02-09-59-43</text>
<text x="1977.4" y="40.35" textLength="39.2" lengthAdjust="spacingAndGlyphs">L9</text>
</g>
<g fill="#0c0818">
<circle cx="388.6" cy="66.3" r="1.6"/>
<circle cx="392.5" cy="64.2" r="1.6"/>
<circle cx="364.1" cy="85.2" r="1.6"/>
<circle cx="366.7" cy="84.2" r="1.6"/>
<circle cx="345.2" cy="92.2" r="1.6"/>
<circle cx="335.4" cy="106.4" r="1.6"/>
<circle cx="330.3" cy="128.3" r="1.6"/>
<circle cx="325.4" cy="149.2" r="1.6"/>
<circle cx="324.3" cy="170.2" r="1.6"/>
<circle cx="324.3" cy="192.8" r="1.6"/>
<circle cx="307.5" cy="213.3" r="1.6"/>
<circle cx="302.3" cy="216.4" r="1.6"/>
<circle cx="288.4" cy="234.3" r="1.6"/>
<circle cx="284.4" cy="256.4" r="1.6"/>
<circle cx="281.4" cy="262.3" r="1.6"/>
<circle cx="271.4" cy="277.2" r="1.6"/>
<circle cx="266.5" cy="298.2" r="1.6"/>
<circle cx="263.4" cy="319.1" r="1.6"/>
<circle cx="260.4" cy="324.3" r="1.6"/>
<circle cx="250.4" cy="341.3" r="1.6"/>
<circle cx="240.4" cy="362.3" r="1.6"/>
<circle cx="238.3" cy="372.5" r="1.6"/>
<circle cx="236.4" cy="383.2" r="1.6"/>
<circle cx="229.4" cy="405.4" r="1.6"/>
<circle cx="227.3" cy="426.3" r="1.6"/>
<circle cx="222.4" cy="447.3" r="1.6"/>
<circle cx="223.6" cy="469.2" r="1.6"/>
<circle cx="233.4" cy="490.2" r="1.6"/>
<circle cx="238.5" cy="493.2" r="1.6"/>
<circle cx="260.2" cy="500.2" r="1.6"/>
<circle cx="281.4" cy="507.2" r="1.6"/>
<circle cx="302.3" cy="509.3" r="1.6"/>
<circle cx="307.5" cy="511.2" r="1.6"/>
<circle cx="324.3" cy="523.3" r="1.6"/>
<circle cx="334.3" cy="533.3" r="1.6"/>
<circle cx="333.3" cy="554.3" r="1.6"/>
<circle cx="339.4" cy="575.3" r="1.6"/>
<circle cx="328.4" cy="597.2" r="1.6"/>
<circle cx="324.3" cy="606.3" r="1.6"/>
<circle cx="317.3" cy="618.1" r="1.6"/>
<circle cx="302.3" cy="632.1" r="1.6"/>
<circle cx="294.4" cy="639.1" r="1.6"/>
<circle cx="281.4" cy="645.2" r="1.6"/>
<circle cx="260.2" cy="653.3" r="1.6"/>
<circle cx="252.2" cy="661.2" r="1.6"/>
<circle cx="238.0" cy="683.6" r="1.6"/>
<circle cx="239.8" cy="682.0" r="1.6"/>
<circle cx="217.4" cy="691.4" r="1.6"/>
<circle cx="203.6" cy="703.3" r="1.6"/>
<circle cx="198.4" cy="724.4" r="1.6"/>
<circle cx="196.3" cy="730.3" r="1.6"/>
<circle cx="187.4" cy="746.2" r="1.6"/>
<circle cx="175.4" cy="768.4" r="1.6"/>
<circle cx="176.8" cy="767.0" r="1.6"/>
<circle cx="159.6" cy="788.3" r="1.6"/>
<circle cx="163.3" cy="810.3" r="1.6"/>
<circle cx="153.5" cy="830.2" r="1.6"/>
<circle cx="153.5" cy="832.4" r="1.6"/>
<circle cx="175.5" cy="842.3" r="1.6"/>
<circle cx="196.3" cy="848.4" r="1.6"/>
<circle cx="217.4" cy="848.4" r="1.6"/>
<circle cx="229.3" cy="852.2" r="1.6"/>
<circle cx="238.4" cy="863.2" r="1.6"/>
<circle cx="249.4" cy="874.4" r="1.6"/>
<circle cx="253.4" cy="895.2" r="1.6"/>
<circle cx="255.5" cy="916.0" r="1.6"/>
<circle cx="260.0" cy="936.4" r="1.6"/>
<circle cx="260.6" cy="938.4" r="1.6"/>
<circle cx="267.6" cy="959.2" r="1.6"/>
<circle cx="260.2" cy="967.2" r="1.6"/>
<circle cx="238.5" cy="970.2" r="1.6"/>
<circle cx="217.3" cy="980.2" r="1.6"/>
<circle cx="196.1" cy="1000.4" r="1.6"/>
<circle cx="194.3" cy="1001.9" r="1.6"/>
<circle cx="182.3" cy="1023.1" r="1.6"/>
<circle cx="175.4" cy="1033.3" r="1.6"/>
<circle cx="166.4" cy="1044.3" r="1.6"/>
<circle cx="160.4" cy="1066.2" r="1.6"/>
<circle cx="156.4" cy="1087.2" r="1.6"/>
<circle cx="153.7" cy="1097.4" r="1.6"/>
<circle cx="145.2" cy="1108.1" r="1.6"/>
<circle cx="132.5" cy="1118.1" r="1.6"/>
<circle cx="127.5" cy="1129.3" r="1.6"/>
<circle cx="118.5" cy="1151.0" r="1.6"/>
<circle cx="111.5" cy="1157.2" r="1.6"/>
<circle cx="89.3" cy="1164.2" r="1.6"/>
<circle cx="68.1" cy="1166.2" r="1.6"/>
<circle cx="47.4" cy="1167.2" r="1.6"/>
<circle cx="25.2" cy="1161.2" r="1.6"/>
<circle cx="1246.6" cy="66.3" r="1.6"/>
<circle cx="1250.5" cy="64.2" r="1.6"/>
<circle cx="1222.1" cy="85.2" r="1.6"/>
<circle cx="1224.7" cy="84.2" r="1.6"/>
<circle cx="1203.2" cy="92.2" r="1.6"/>
<circle cx="1193.4" cy="106.4" r="1.6"/>
<circle cx="1188.3" cy="128.3" r="1.6"/>
<circle cx="1183.4" cy="149.2" r="1.6"/>
<circle cx="1182.3" cy="170.2" r="1.6"/>
<circle cx="1182.3" cy="192.8" r="1.6"/>
<circle cx="1165.5" cy="213.3" r="1.6"/>
<circle cx="1160.3" cy="216.4" r="1.6"/>
<circle cx="1146.4" cy="234.3" r="1.6"/>
<circle cx="1142.4" cy="256.4" r="1.6"/>
<circle cx="1139.4" cy="262.3" r="1.6"/>
<circle cx="1129.4" cy="277.2" r="1.6"/>
<circle cx="1124.5" cy="298.2" r="1.6"/>
<circle cx="1121.4" cy="319.1" r="1.6"/>
<circle cx="1118.4" cy="324.3" r="1.6"/>
<circle cx="1108.4" cy="341.3" r="1.6"/>
<circle cx="1098.4" cy="362.3" r="1.6"/>
<circle cx="1096.3" cy="372.5" r="1.6"/>
<circle cx="1094.4" cy="383.2" r="1.6"/>
<circle cx="1087.4" cy="405.4" r="1.6"/>
<circle cx="1085.3" cy="426.3" r="1.6"/>
<circle cx="1080.4" cy="447.3" r="1.6"/>
<circle cx="1081.6" cy="469.2" r="1.6"/>
<circle cx="1091.4" cy="490.2" r="1.6"/>
<circle cx="1096.5" cy="493.2" r="1.6"/>
<circle cx="1118.2" cy="500.2" r="1.6"/>
<circle cx="1139.4" cy="507.2" r="1.6"/>
<circle cx="1160.3" cy="509.3" r="1.6"/>
<circle cx="1165.5" cy="511.2" r="1.6"/>
<circle cx="1182.3" cy="523.3" r="1.6"/>
<circle cx="1192.3" cy="533.3" r="1.6"/>
<circle cx="1191.3" cy="554.3" r="1.6"/>
<circle cx="1197.4" cy="575.3" r="1.6"/>
<circle cx="1186.4" cy="597.2" r="1.6"/>
<circle cx="1182.3" cy="606.3" r="1.6"/>
<circle cx="1175.3" cy="618.1" r="1.6"/>
<circle cx="1160.3" cy="632.1" r="1.6"/>
<circle cx="1152.4" cy="639.1" r="1.6"/>
<circle cx="1139.4" cy="645.2" r="1.6"/>
<circle cx="1118.2" cy="653.3" r="1.6"/>
<circle cx="1110.2" cy="661.2" r="1.6"/>
<circle cx="1096.0" cy="683.6" r="1.6"/>
<circle cx="1097.8" cy="682.0" r="1.6"/>
<circle cx="1075.4" cy="691.4" r="1.6"/>
<circle cx="1061.6" cy="703.3" r="1.6"/>
<circle cx="1056.4" cy="724.4" r="1.6"/>
<circle cx="1054.3" cy="730.3" r="1.6"/>
<circle cx="1045.4" cy="746.2" r="1.6"/>
<circle cx="1033.4" cy="768.4" r="1.6"/>
<circle cx="1034.8" cy="767.0" r="1.6"/>
<circle cx="1017.6" cy="788.3" r="1.6"/>
<circle cx="1021.3" cy="810.3" r="1.6"/>
<circle cx="1011.5" cy="830.2" r="1.6"/>
<circle cx="1011.5" cy="832.4" r="1.6"/>
<circle cx="1033.5" cy="842.3" r="1.6"/>
<circle cx="1054.3" cy="848.4" r="1.6"/>
<circle cx="1075.4" cy="848.4" r="1.6"/>
<circle cx="1087.3" cy="852.2" r="1.6"/>
<circle cx="1096.4" cy="863.2" r="1.6"/>
<circle cx="1107.4" cy="874.4" r="1.6"/>
<circle cx="1111.4" cy="895.2" r="1.6"/>
<circle cx="1113.5" cy="916.0" r="1.6"/>
<circle cx="1118.0" cy="936.4" r="1.6"/>
<circle cx="1118.6" cy="938.4" r="1.6"/>
<circle cx="1125.6" cy="959.2" r="1.6"/>
<circle cx="1118.2" cy="967.2" r="1.6"/>
<circle cx="1096.5" cy="970.2" r="1.6"/>
<circle cx="1075.3" cy="980.2" r="1.6"/>
<circle cx="1054.1" cy="1000.4" r="1.6"/>
<circle cx="1052.3" cy="1001.9" r="1.6"/>
<circle cx="1040.3" cy="1023.1" r="1.6"/>
<circle cx="1033.4" cy="1033.3" r="1.6"/>
<circle cx="1024.4" cy="1044.3" r="1.6"/>
<circle cx="1018.4" cy="1066.2" r="1.6"/>
<circle cx="1014.4" cy="1087.2" r="1.6"/>
<circle cx="1011.7" cy="1097.4" r="1.6"/>
<circle cx="1003.2" cy="1108.1" r="1.6"/>
<circle cx="990.5" cy="1118.1" r="1.6"/>
<circle cx="985.5" cy="1129.3" r="1.6"/>
<circle cx="976.5" cy="1151.0" r="1.6"/>
<circle cx="969.5" cy="1157.2" r="1.6"/>
<circle cx="947.3" cy="1164.2" r="1.6"/>
<circle cx="926.1" cy="1166.2" r="1.6"/>
<circle cx="905.4" cy="1167.2" r="1.6"/>
<circle cx="883.2" cy="1161.2" r="1.6"/>
<circle cx="2103.6" cy="66.3" r="1.6"/>
<circle cx="2107.5" cy="64.2" r="1.6"/>
<circle cx="2079.1" cy="85.2" r="1.6"/>
<circle cx="2081.7" cy="84.2" r="1.6"/>
<circle cx="2060.2" cy="92.2" r="1.6"/>
<circle cx="2050.4" cy="106.4" r="1.6"/>
<circle cx="2045.3" cy="128.3" r="1.6"/>
<circle cx="2040.4" cy="149.2" r="1.6"/>
<circle cx="2039.3" cy="170.2" r="1.6"/>
<circle cx="2039.3" cy="192.8" r="1.6"/>
<circle cx="2022.5" cy="213.3" r="1.6"/>
<circle cx="2017.3" cy="216.4" r="1.6"/>
<circle cx="2003.4" cy="234.3" r="1.6"/>
<circle cx="1999.4" cy="256.4" r="1.6"/>
<circle cx="1996.4" cy="262.3" r="1.6"/>
<circle cx="1986.4" cy="277.2" r="1.6"/>
<circle cx="1981.5" cy="298.2" r="1.6"/>
<circle cx="1978.4" cy="319.1" r="1.6"/>
<circle cx="1975.4" cy="324.3" r="1.6"/>
<circle cx="1965.4" cy="341.3" r="1.6"/>
<circle cx="1955.4" cy="362.3" r="1.6"/>
<circle cx="1953.3" cy="372.5" r="1.6"/>
<circle cx="1951.4" cy="383.2" r="1.6"/>
<circle cx="1944.4" cy="405.4" r="1.6"/>
<circle cx="1942.3" cy="426.3" r="1.6"/>
<circle cx="1937.4" cy="447.3" r="1.6"/>
<circle cx="1938.6" cy="469.2" r="1.6"/>
<circle cx="1948.4" cy="490.2" r="1.6"/>
<circle cx="1953.5" cy="493.2" r="1.6"/>
<circle cx="1975.2" cy="500.2" r="1.6"/>
<circle cx="1996.4" cy="507.2" r="1.6"/>
<circle cx="2017.3" cy="509.3" r="1.6"/>
<circle cx="2022.5" cy="511.2" r="1.6"/>
<circle cx="2039.3" cy="523.3" r="1.6"/>
<circle cx="2049.3" cy="533.3" r="1.6"/>
<circle cx="2048.3" cy="554.3" r="1.6"/>
<circle cx="2054.4" cy="575.3" r="1.6"/>
<circle cx="2043.4" cy="597.2" r="1.6"/>
<circle cx="2039.3" cy="606.3" r="1.6"/>
<circle cx="2032.3" cy="618.1" r="1.6"/>
<circle cx="2017.3" cy="632.1" r="1.6"/>
<circle cx="2009.4" cy="639.1" r="1.6"/>
<circle cx="1996.4" cy="645.2" r="1.6"/>
<circle cx="1975.2" cy="653.3" r="1.6"/>
<circle cx="1967.2" cy="661.2" r="1.6"/>
<circle cx="1953.0" cy="683.6" r="1.6"/>
<circle cx="1954.8" cy="682.0" r="1.6"/>
<circle cx="1932.4" cy="691.4" r="1.6"/>
<circle cx="1918.6" cy="703.3" r="1.6"/>
<circle cx="1913.4" cy="724.4" r="1.6"/>
<circle cx="1911.3" cy="730.3" r="1.6"/>
<circle cx="1902.4" cy="746.2" r="1.6"/>
<circle cx="1890.4" cy="768.4" r="1.6"/>
<circle cx="1891.8" cy="767.0" r="1.6"/>
<circle cx="1874.6" cy="788.3" r="1.6"/>
<circle cx="1878.3" cy="810.3" r="1.6"/>
<circle cx="1868.5" cy="830.2" r="1.6"/>
<circle cx="1868.5" cy="832.4" r="1.6"/>
<circle cx="1890.5" cy="842.3" r="1.6"/>
<circle cx="1911.3" cy="848.4" r="1.6"/>
<circle cx="1932.4" cy="848.4" r="1.6"/>
<circle cx="1944.3" cy="852.2" r="1.6"/>
<circle cx="1953.4" cy="863.2" r="1.6"/>
<circle cx="1964.4" cy="874.4" r="1.6"/>
<circle cx="1968.4" cy="895.2" r="1.6"/>
<circle cx="1970.5" cy="916.0" r="1.6"/>
<circle cx="1975.0" cy="936.4" r="1.6"/>
<circle cx="1975.6" cy="938.4" r="1.6"/>
<circle cx="1982.6" cy="959.2" r="1.6"/>
<circle cx="1975.2" cy="967.2" r="1.6"/>
<circle cx="1953.5" cy="970.2" r="1.6"/>
<circle cx="1932.3" cy="980.2" r="1.6"/>
<circle cx="1911.1" cy="1000.4" r="1.6"/>
<circle cx="1909.3" cy="1001.9" r="1.6"/>
<circle cx="1897.3" cy="1023.1" r="1.6"/>
<circle cx="1890.4" cy="1033.3" r="1.6"/>
<circle cx="1881.4" cy="1044.3" r="1.6"/>
<circle cx="1875.4" cy="1066.2" r="1.6"/>
<circle cx="1871.4" cy="1087.2" r="1.6"/>
<circle cx="1868.7" cy="1097.4" r="1.6"/>
<circle cx="1860.2" cy="1108.1" r="1.6"/>
<circle cx="1847.5" cy="1118.1" r="1.6"/>
<circle cx="1842.5" cy="1129.3" r="1.6"/>
<circle cx="1833.5" cy="1151.0" r="1.6"/>
<circle cx="1826.5" cy="1157.2" r="1.6"/>
<circle cx="1804.3" cy="1164.2" r="1.6"/>
<circle cx="1783.1" cy="1166.2" r="1.6"/>
<circle cx="1762.4" cy="1167.2" r="1.6"/>
<circle cx="1740.2" cy="1161.2" r="1.6"/>
</g>
</svg>
</div></body></html>
